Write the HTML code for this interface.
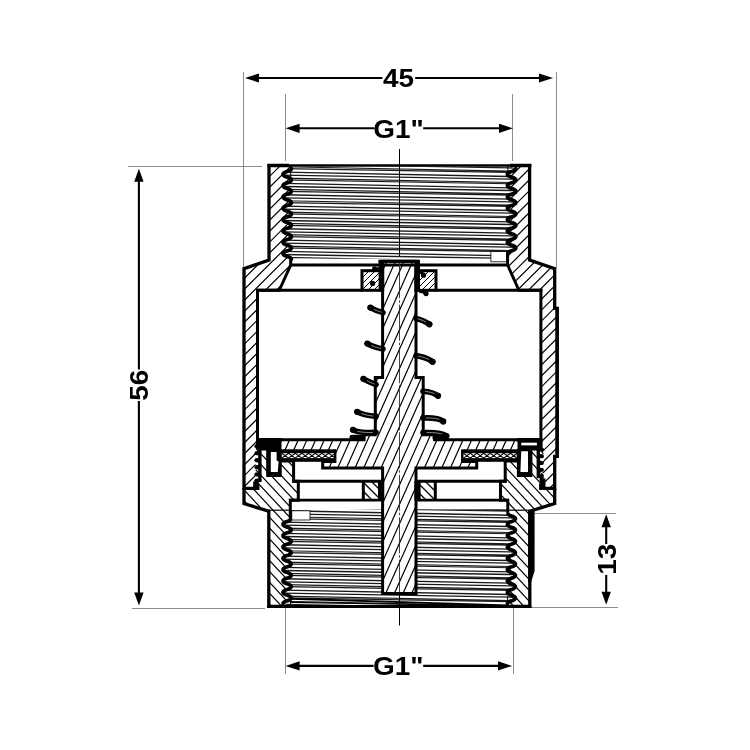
<!DOCTYPE html>
<html><head><meta charset="utf-8"><title>Check valve G1" drawing</title>
<style>html,body{margin:0;padding:0;background:#fff}svg{display:block;will-change:transform}</style></head>
<body>
<svg width="750" height="750" viewBox="0 0 750 750">
<rect width="750" height="750" fill="#fff"/>
<defs>
<clipPath id="cBody"><polygon points="244.00,488.30 244.00,268.70 269.00,260.00 269.00,165.50 289.00,165.50 291.39,168.50 291.37,168.90 291.20,169.30 290.86,169.70 290.36,170.10 289.72,170.50 288.92,170.90 287.93,171.30 286.49,171.70 285.49,172.10 284.69,172.50 284.04,172.90 283.55,173.30 283.21,173.70 283.03,174.10 283.01,174.50 283.16,174.90 283.48,175.30 283.95,175.70 284.57,176.10 285.34,176.50 286.29,176.90 287.72,177.30 288.76,177.70 289.59,178.10 290.26,178.50 290.78,178.90 291.15,179.30 291.35,179.70 291.39,180.10 291.27,180.50 290.98,180.90 290.54,181.30 289.94,181.70 289.20,182.10 288.28,182.50 286.90,182.90 285.79,183.30 284.93,183.70 284.24,184.10 283.69,184.50 283.30,184.90 283.07,185.30 283.00,185.70 283.10,186.10 283.36,186.50 283.78,186.90 284.35,187.30 285.07,187.70 285.96,188.10 287.22,188.50 288.46,188.90 289.34,189.30 290.06,189.70 290.63,190.10 291.05,190.50 291.30,190.90 291.40,191.30 291.33,191.70 291.10,192.10 290.70,192.50 290.15,192.90 289.46,193.30 288.60,193.70 287.49,194.10 286.11,194.50 285.19,194.90 284.45,195.30 283.85,195.70 283.41,196.10 283.13,196.50 283.00,196.90 283.05,197.30 283.26,197.70 283.62,198.10 284.15,198.50 284.82,198.90 285.65,199.30 286.70,199.70 288.12,200.10 289.07,200.50 289.84,200.90 290.46,201.30 290.93,201.70 291.24,202.10 291.39,202.50 291.37,202.90 291.19,203.30 290.85,203.70 290.35,204.10 289.70,204.50 288.90,204.90 287.90,205.30 286.46,205.70 285.47,206.10 284.67,206.50 284.03,206.90 283.54,207.30 283.20,207.70 283.03,208.10 283.02,208.50 283.17,208.90 283.49,209.30 283.96,209.70 284.58,210.10 285.36,210.50 286.32,210.90 287.75,211.30 288.79,211.70 289.61,212.10 290.28,212.50 290.79,212.90 291.16,213.30 291.36,213.70 291.39,214.10 291.27,214.50 290.98,214.90 290.53,215.30 289.93,215.70 289.18,216.10 288.26,216.50 286.86,216.90 285.76,217.30 284.91,217.70 284.22,218.10 283.68,218.50 283.29,218.90 283.07,219.30 283.00,219.70 283.10,220.10 283.37,220.50 283.79,220.90 284.36,221.30 285.09,221.70 285.98,222.10 287.28,222.50 288.48,222.90 289.36,223.30 290.08,223.70 290.64,224.10 291.05,224.50 291.31,224.90 291.40,225.30 291.33,225.70 291.09,226.10 290.69,226.50 290.14,226.90 289.44,227.30 288.58,227.70 287.45,228.10 286.08,228.50 285.17,228.90 284.43,229.30 283.84,229.70 283.40,230.10 283.12,230.50 283.00,230.90 283.05,231.30 283.26,231.70 283.63,232.10 284.16,232.50 284.84,232.90 285.67,233.30 286.73,233.70 288.15,234.10 289.09,234.50 289.86,234.90 290.47,235.30 290.94,235.70 291.24,236.10 291.39,236.50 291.37,236.90 291.18,237.30 290.84,237.70 290.33,238.10 289.68,238.50 288.88,238.90 287.87,239.30 286.43,239.70 285.45,240.10 284.65,240.50 284.02,240.90 283.53,241.30 283.19,241.70 283.02,242.10 283.02,242.50 283.18,242.90 283.50,243.30 283.97,243.70 284.60,244.10 285.38,244.50 286.34,244.90 287.78,245.30 288.81,245.70 289.63,246.10 290.29,246.50 290.80,246.90 291.16,247.30 291.36,247.70 291.39,248.10 291.26,248.50 290.97,248.90 290.51,249.30 289.91,249.70 289.16,250.10 288.23,250.50 286.83,250.90 285.74,251.30 284.89,251.70 284.21,252.10 283.67,252.50 283.29,252.90 283.06,253.30 283.00,253.70 283.11,254.10 283.37,254.50 283.80,254.90 284.38,255.30 285.11,255.70 286.00,256.10 287.33,256.50 288.51,256.90 289.38,257.30 290.09,257.70 290.65,258.10 291.06,258.50 291.31,258.90 291.40,259.30 290.70,259.30 290.70,265.00 279.30,290.30 257.50,290.30 257.50,443.50 255.38,443.50 256.10,443.90 257.22,444.30 259.12,444.70 260.11,445.10 260.76,445.50 261.12,445.90 261.19,446.30 260.97,446.70 260.47,447.10 259.66,447.50 258.36,447.90 256.59,448.30 255.70,448.70 255.12,449.10 254.84,449.50 254.84,449.90 255.12,450.30 255.70,450.70 256.59,451.10 258.36,451.50 259.66,451.90 260.47,452.30 260.97,452.70 261.19,453.10 261.12,453.50 260.76,453.90 260.11,454.30 259.12,454.70 257.22,455.10 256.10,455.50 255.38,455.90 254.94,456.30 254.80,456.70 254.94,457.10 255.38,457.50 256.10,457.90 257.22,458.30 259.12,458.70 260.11,459.10 260.76,459.50 261.12,459.90 261.19,460.30 260.97,460.70 260.47,461.10 259.66,461.50 258.36,461.90 256.59,462.30 255.70,462.70 255.12,463.10 254.84,463.50 254.84,463.90 255.12,464.30 255.70,464.70 256.59,465.10 258.36,465.50 259.66,465.90 260.47,466.30 260.97,466.70 261.19,467.10 261.12,467.50 260.76,467.90 260.11,468.30 259.12,468.70 257.22,469.10 256.10,469.50 255.38,469.90 254.94,470.30 254.80,470.70 254.94,471.10 255.38,471.50 256.10,471.90 257.22,472.30 259.12,472.70 260.11,473.10 260.76,473.50 261.12,473.90 261.19,474.30 260.97,474.70 260.47,475.10 259.66,475.50 258.36,475.90 256.59,476.30 255.70,476.70 255.12,477.10 254.84,477.50 254.84,477.90 255.12,478.30 255.70,478.70 256.59,479.10 258.36,479.50 259.66,479.90 260.47,480.30 260.97,480.70 261.19,481.10 261.12,481.50 254.80,481.50 254.80,485.50 257.80,485.50 257.80,488.30"/><polygon points="554.70,488.40 554.70,456.40 556.90,456.40 556.90,308.30 554.70,308.30 554.70,268.70 529.60,260.00 529.60,165.50 510.00,165.50 515.79,168.50 515.76,168.90 515.57,169.30 515.22,169.70 514.70,170.11 514.04,170.51 513.22,170.91 512.20,171.31 510.75,171.71 509.79,172.11 509.00,172.51 508.37,172.92 507.89,173.32 507.57,173.72 507.42,174.12 507.43,174.52 507.60,174.92 507.94,175.32 508.43,175.73 509.08,176.13 509.88,176.53 510.87,176.93 512.32,177.33 513.32,177.73 514.12,178.13 514.77,178.54 515.26,178.94 515.60,179.34 515.77,179.74 515.78,180.14 515.63,180.54 515.31,180.94 514.83,181.35 514.20,181.75 513.42,182.15 512.45,182.55 511.01,182.95 509.98,183.35 509.16,183.75 508.50,184.16 507.99,184.56 507.63,184.96 507.44,185.36 507.41,185.76 507.55,186.16 507.85,186.56 508.31,186.97 508.92,187.37 509.68,187.77 510.63,188.17 512.05,188.57 513.12,188.97 513.95,189.38 514.63,189.78 515.16,190.18 515.54,190.58 515.75,190.98 515.80,191.38 515.68,191.78 515.39,192.19 514.95,192.59 514.36,192.99 513.61,193.39 512.69,193.79 511.31,194.19 510.19,194.59 509.33,195.00 508.63,195.40 508.09,195.80 507.70,196.20 507.47,196.60 507.40,197.00 507.50,197.40 507.77,197.81 508.19,198.21 508.77,198.61 509.50,199.01 510.40,199.41 511.71,199.81 512.90,200.21 513.78,200.62 514.49,201.02 515.06,201.42 515.47,201.82 515.72,202.22 515.80,202.62 515.72,203.02 515.47,203.43 515.06,203.83 514.50,204.23 513.79,204.63 512.91,205.03 511.74,205.43 510.41,205.83 509.51,206.24 508.78,206.64 508.20,207.04 507.77,207.44 507.50,207.84 507.40,208.24 507.46,208.64 507.69,209.05 508.08,209.45 508.63,209.85 509.32,210.25 510.18,210.65 511.29,211.05 512.68,211.45 513.60,211.86 514.35,212.26 514.95,212.66 515.39,213.06 515.67,213.46 515.80,213.86 515.75,214.26 515.54,214.67 515.17,215.07 514.64,215.47 513.96,215.87 513.13,216.27 512.06,216.67 510.64,217.07 509.69,217.48 508.93,217.88 508.31,218.28 507.85,218.68 507.55,219.08 507.41,219.48 507.44,219.88 507.63,220.29 507.98,220.69 508.49,221.09 509.15,221.49 509.97,221.89 511.00,222.29 512.44,222.69 513.41,223.10 514.19,223.50 514.83,223.90 515.30,224.30 515.62,224.70 515.78,225.10 515.78,225.50 515.60,225.91 515.27,226.31 514.77,226.71 514.13,227.11 513.33,227.51 512.33,227.91 510.89,228.31 509.89,228.72 509.09,229.12 508.44,229.52 507.94,229.92 507.60,230.32 507.43,230.72 507.42,231.12 507.57,231.53 507.89,231.93 508.37,232.33 508.99,232.73 509.77,233.13 510.74,233.53 512.18,233.94 513.21,234.34 514.03,234.74 514.70,235.14 515.21,235.54 515.57,235.94 515.76,236.34 515.79,236.75 515.65,237.15 515.35,237.55 514.90,237.95 514.28,238.35 513.52,238.75 512.58,239.15 511.16,239.56 510.09,239.96 509.25,240.36 508.57,240.76 508.04,241.16 507.66,241.56 507.45,241.96 507.40,242.37 507.52,242.77 507.80,243.17 508.25,243.57 508.84,243.97 509.59,244.37 510.50,244.77 511.89,245.18 513.01,245.58 513.86,245.98 514.56,246.38 515.11,246.78 515.50,247.18 515.73,247.58 515.80,247.99 515.70,248.39 515.44,248.79 515.01,249.19 514.43,249.59 513.70,249.99 512.81,250.39 511.49,250.80 510.30,251.20 509.42,251.60 508.71,252.00 507.60,252.00 507.60,265.00 518.90,290.30 540.90,290.30 540.90,446.50 543.72,446.50 543.36,446.90 542.71,447.30 541.72,447.70 539.82,448.10 538.70,448.50 537.98,448.90 537.54,449.30 537.40,449.70 537.54,450.10 537.98,450.50 538.70,450.90 539.82,451.30 541.72,451.70 542.71,452.10 543.36,452.50 543.72,452.90 543.79,453.30 543.57,453.70 543.07,454.10 542.26,454.50 540.96,454.90 539.19,455.30 538.30,455.70 537.72,456.10 537.44,456.50 537.44,456.90 537.72,457.30 538.30,457.70 539.19,458.10 540.96,458.50 542.26,458.90 543.07,459.30 543.57,459.70 543.79,460.10 543.72,460.50 543.36,460.90 542.71,461.30 541.72,461.70 539.82,462.10 538.70,462.50 537.98,462.90 537.54,463.30 537.40,463.70 537.54,464.10 537.98,464.50 538.70,464.90 539.82,465.30 541.72,465.70 542.71,466.10 543.36,466.50 543.72,466.90 543.79,467.30 543.57,467.70 543.07,468.10 542.26,468.50 540.96,468.90 539.19,469.30 538.30,469.70 537.72,470.10 537.44,470.50 537.44,470.90 537.72,471.30 538.30,471.70 539.19,472.10 540.96,472.50 542.26,472.90 543.07,473.30 543.57,473.70 543.79,474.10 543.72,474.50 543.36,474.90 542.71,475.30 541.72,475.70 539.82,476.10 538.70,476.50 537.98,476.90 537.54,477.30 537.40,477.70 537.54,478.10 537.98,478.50 543.80,478.50 543.80,485.50 540.80,485.50 540.80,488.40"/></clipPath>
<clipPath id="cCap"><polygon points="244.00,488.30 257.80,488.30 257.80,485.50 254.80,485.50 254.80,481.50 261.12,481.50 261.19,481.10 260.97,480.70 260.47,480.30 259.66,479.90 258.36,479.50 256.59,479.10 255.70,478.70 255.12,478.30 254.84,477.90 254.84,477.50 255.12,477.10 255.70,476.70 256.59,476.30 258.36,475.90 259.66,475.50 260.47,475.10 260.97,474.70 261.19,474.30 261.12,473.90 260.76,473.50 260.11,473.10 259.12,472.70 257.22,472.30 256.10,471.90 255.38,471.50 254.94,471.10 254.80,470.70 254.94,470.30 255.38,469.90 256.10,469.50 257.22,469.10 259.12,468.70 260.11,468.30 260.76,467.90 261.12,467.50 261.19,467.10 260.97,466.70 260.47,466.30 259.66,465.90 258.36,465.50 256.59,465.10 255.70,464.70 255.12,464.30 254.84,463.90 254.84,463.50 255.12,463.10 255.70,462.70 256.59,462.30 258.36,461.90 259.66,461.50 260.47,461.10 260.97,460.70 261.19,460.30 261.12,459.90 260.76,459.50 260.11,459.10 259.12,458.70 257.22,458.30 256.10,457.90 255.38,457.50 254.94,457.10 254.80,456.70 254.94,456.30 255.38,455.90 256.10,455.50 257.22,455.10 259.12,454.70 260.11,454.30 260.76,453.90 261.12,453.50 261.19,453.10 260.97,452.70 260.47,452.30 259.66,451.90 258.36,451.50 256.59,451.10 255.70,450.70 255.12,450.30 254.84,449.90 254.84,449.50 255.12,449.10 255.70,448.70 256.59,448.30 258.36,447.90 259.66,447.50 260.47,447.10 260.97,446.70 261.19,446.30 261.12,445.90 260.76,445.50 260.11,445.10 259.12,444.70 257.22,444.30 256.10,443.90 255.38,443.50 258.00,449.00 267.70,449.00 267.70,475.50 280.20,475.50 280.20,461.00 293.60,461.00 293.60,481.30 298.30,481.30 298.30,500.20 290.30,500.20 290.30,520.00 290.32,520.00 289.73,520.40 288.98,520.80 288.07,521.20 286.68,521.61 285.64,522.01 284.81,522.41 284.15,522.81 283.63,523.21 283.26,523.61 283.05,524.01 283.00,524.42 283.12,524.82 283.39,525.22 283.82,525.62 284.40,526.02 285.13,526.42 286.02,526.82 287.36,527.23 288.46,527.63 289.30,528.03 289.98,528.43 290.52,528.83 290.91,529.23 291.13,529.63 291.20,530.04 291.10,530.44 290.85,530.84 290.44,531.24 289.87,531.64 289.16,532.04 288.29,532.44 287.02,532.85 285.84,533.25 284.98,533.65 284.28,534.05 283.73,534.45 283.33,534.85 283.08,535.25 283.00,535.66 283.08,536.06 283.32,536.46 283.71,536.86 284.26,537.26 284.95,537.66 285.80,538.06 286.94,538.47 288.25,538.87 289.13,539.27 289.85,539.67 290.41,540.07 290.83,540.47 291.10,540.88 291.20,541.28 291.14,541.68 290.92,542.08 290.54,542.48 290.01,542.88 289.33,543.28 288.50,543.69 287.43,544.09 286.06,544.49 285.16,544.89 284.43,545.29 283.84,545.69 283.41,546.09 283.13,546.50 283.00,546.90 283.05,547.30 283.25,547.70 283.61,548.10 284.12,548.50 284.78,548.90 285.60,549.31 286.63,549.71 288.02,550.11 288.95,550.51 289.70,550.91 290.30,551.31 290.75,551.71 291.05,552.12 291.19,552.52 291.17,552.92 290.98,553.32 290.64,553.72 290.14,554.12 289.50,554.52 288.70,554.93 287.71,555.33 286.30,555.73 285.35,556.13 284.58,556.53 283.96,556.93 283.49,557.33 283.17,557.74 283.02,558.14 283.02,558.54 283.19,558.94 283.52,559.34 283.99,559.74 284.62,560.14 285.40,560.55 286.37,560.95 287.78,561.35 288.76,561.75 289.54,562.15 290.18,562.55 290.66,562.95 291.00,563.36 291.17,563.76 291.19,564.16 291.04,564.56 290.73,564.96 290.27,565.36 289.65,565.76 288.90,566.17 287.96,566.57 286.55,566.97 285.54,567.37 284.74,567.77 284.09,568.17 283.58,568.57 283.23,568.98 283.04,569.38 283.01,569.78 283.14,570.18 283.43,570.58 283.87,570.98 284.47,571.38 285.21,571.79 286.13,572.19 287.51,572.59 288.56,572.99 289.38,573.39 290.05,573.79 290.57,574.19 290.94,574.60 291.15,575.00 291.20,575.40 291.08,575.80 290.81,576.20 290.38,576.60 289.80,577.00 289.08,577.41 288.19,577.81 286.84,578.21 285.74,578.61 284.90,579.01 284.22,579.41 283.68,579.81 283.30,580.22 283.07,580.62 283.00,581.02 283.10,581.42 283.35,581.82 283.76,582.22 284.32,582.62 285.03,583.03 285.90,583.43 287.17,583.83 288.35,584.23 289.21,584.63 289.91,585.03 290.47,585.44 290.87,585.84 291.11,586.24 291.20,586.64 291.12,587.04 290.89,587.44 290.49,587.84 289.95,588.25 289.25,588.65 288.40,589.05 287.27,589.45 285.96,589.85 285.07,590.25 284.36,590.65 283.79,591.06 283.37,591.46 283.11,591.86 283.00,592.26 283.06,592.66 283.28,593.06 283.66,593.46 284.19,593.87 284.86,594.27 285.69,594.67 286.77,595.07 288.13,595.47 289.04,595.87 289.77,596.27 290.36,596.68 290.79,597.08 291.07,597.48 291.19,597.88 291.15,598.28 290.95,598.68 290.59,599.08 290.08,599.49 289.42,599.89 288.61,600.29 287.58,600.69 286.18,601.09 285.26,601.49 284.50,601.89 283.90,602.30 283.45,602.70 283.15,603.10 283.01,603.50 290.30,606.40 268.80,606.40 268.80,511.20 244.00,503.60"/><polygon points="554.70,488.40 540.80,488.40 540.80,485.50 543.80,485.50 543.80,478.50 537.98,478.50 537.54,478.10 537.40,477.70 537.54,477.30 537.98,476.90 538.70,476.50 539.82,476.10 541.72,475.70 542.71,475.30 543.36,474.90 543.72,474.50 543.79,474.10 543.57,473.70 543.07,473.30 542.26,472.90 540.96,472.50 539.19,472.10 538.30,471.70 537.72,471.30 537.44,470.90 537.44,470.50 537.72,470.10 538.30,469.70 539.19,469.30 540.96,468.90 542.26,468.50 543.07,468.10 543.57,467.70 543.79,467.30 543.72,466.90 543.36,466.50 542.71,466.10 541.72,465.70 539.82,465.30 538.70,464.90 537.98,464.50 537.54,464.10 537.40,463.70 537.54,463.30 537.98,462.90 538.70,462.50 539.82,462.10 541.72,461.70 542.71,461.30 543.36,460.90 543.72,460.50 543.79,460.10 543.57,459.70 543.07,459.30 542.26,458.90 540.96,458.50 539.19,458.10 538.30,457.70 537.72,457.30 537.44,456.90 537.44,456.50 537.72,456.10 538.30,455.70 539.19,455.30 540.96,454.90 542.26,454.50 543.07,454.10 543.57,453.70 543.79,453.30 543.72,452.90 543.36,452.50 542.71,452.10 541.72,451.70 539.82,451.30 538.70,450.90 537.98,450.50 537.54,450.10 537.40,449.70 537.54,449.30 537.98,448.90 538.70,448.50 539.82,448.10 541.72,447.70 542.71,447.30 543.36,446.90 543.72,446.50 540.50,449.00 530.90,449.00 530.90,475.50 518.40,475.50 518.40,461.00 505.20,461.00 505.20,481.30 500.50,481.30 500.50,500.20 507.80,500.20 507.80,515.00 509.18,515.00 509.98,515.40 511.00,515.80 512.35,516.20 513.24,516.60 513.96,517.00 514.54,517.40 514.98,517.80 515.26,518.20 515.39,518.60 515.36,519.00 515.18,519.40 514.84,519.81 514.36,520.21 513.73,520.61 512.95,521.01 511.98,521.41 510.60,521.81 509.68,522.21 508.94,522.61 508.33,523.01 507.88,523.41 507.57,523.81 507.42,524.21 507.42,524.61 507.58,525.01 507.90,525.41 508.36,525.81 508.97,526.21 509.73,526.61 510.66,527.01 512.04,527.41 513.00,527.81 513.76,528.21 514.39,528.62 514.86,529.02 515.19,529.42 515.37,529.82 515.39,530.22 515.25,530.62 514.96,531.02 514.51,531.42 513.93,531.82 513.19,532.22 512.29,532.62 510.93,533.02 509.93,533.42 509.14,533.82 508.50,534.22 508.00,534.62 507.64,535.02 507.45,535.42 507.40,535.82 507.52,536.22 507.79,536.62 508.21,537.02 508.78,537.43 509.49,537.83 510.36,538.23 511.68,538.63 512.74,539.03 513.55,539.43 514.22,539.83 514.74,540.23 515.11,540.63 515.33,541.03 515.40,541.43 515.31,541.83 515.06,542.23 514.66,542.63 514.11,543.03 513.42,543.43 512.58,543.83 511.36,544.23 510.19,544.63 509.35,545.03 508.67,545.43 508.13,545.83 507.73,546.24 507.49,546.64 507.40,547.04 507.47,547.44 507.70,547.84 508.07,548.24 508.60,548.64 509.27,549.04 510.09,549.44 511.16,549.84 512.47,550.24 513.33,550.64 514.04,551.04 514.60,551.44 515.02,551.84 515.29,552.24 515.40,552.64 515.35,553.04 515.15,553.44 514.79,553.84 514.29,554.24 513.64,554.64 512.85,555.05 511.83,555.45 510.48,555.85 509.58,556.25 508.86,556.65 508.27,557.05 507.83,557.45 507.54,557.85 507.41,558.25 507.43,558.65 507.61,559.05 507.95,559.45 508.43,559.85 509.05,560.25 509.83,560.65 510.79,561.05 512.17,561.45 513.10,561.85 513.85,562.25 514.45,562.65 514.91,563.05 515.22,563.45 515.38,563.86 515.38,564.26 515.22,564.66 514.91,565.06 514.45,565.46 513.85,565.86 513.10,566.26 512.17,566.66 510.79,567.06 509.83,567.46 509.05,567.86 508.43,568.26 507.95,568.66 507.61,569.06 507.43,569.46 507.41,569.86 507.54,570.26 507.83,570.66 508.27,571.06 508.86,571.46 509.58,571.86 510.48,572.26 511.83,572.67 512.85,573.07 513.64,573.47 514.29,573.87 514.79,574.27 515.15,574.67 515.35,575.07 515.40,575.47 515.29,575.87 515.02,576.27 514.60,576.67 514.04,577.07 513.33,577.47 512.46,577.87 511.16,578.27 510.08,578.67 509.26,579.07 508.60,579.47 508.07,579.87 507.69,580.27 507.47,580.67 507.40,581.07 507.49,581.48 507.73,581.88 508.13,582.28 508.67,582.68 509.36,583.08 510.20,583.48 511.37,583.88 512.58,584.28 513.43,584.68 514.11,585.08 514.66,585.48 515.06,585.88 515.31,586.28 515.40,586.68 515.33,587.08 515.11,587.48 514.74,587.88 514.22,588.28 513.55,588.68 512.74,589.08 511.67,589.48 510.36,589.88 509.49,590.29 508.78,590.69 508.21,591.09 507.79,591.49 507.52,591.89 507.40,592.29 507.45,592.69 507.65,593.09 508.00,593.49 508.50,593.89 509.14,594.29 509.93,594.69 510.94,595.09 512.29,595.49 513.20,595.89 513.93,596.29 514.52,596.69 514.96,597.09 515.25,597.49 515.39,597.89 515.37,598.29 515.19,598.69 514.86,599.10 514.38,599.50 513.76,599.90 512.99,600.30 512.03,600.70 510.66,601.10 509.72,601.50 508.97,601.90 508.36,602.30 507.90,602.70 507.58,603.10 507.42,603.50 507.80,606.40 529.80,606.40 529.80,511.20 554.70,503.60"/></clipPath>
<clipPath id="cStem"><polygon points="382.60,261.30 382.60,377.50 375.30,377.50 375.30,434.70 364.00,434.70 364.00,439.80 280.00,439.80 280.00,451.00 334.90,451.00 334.90,461.50 322.70,461.50 322.70,468.00 382.60,468.00 382.60,593.60 416.00,593.60 416.00,468.00 476.70,468.00 476.70,461.50 462.60,461.50 462.60,451.00 519.00,451.00 519.00,439.80 434.60,439.80 434.60,434.70 423.20,434.70 423.20,377.50 416.00,377.50 416.00,261.30"/></clipPath>
<clipPath id="cThT"><polygon points="289.00,166.50 291.39,168.50 291.37,168.90 291.20,169.30 290.86,169.70 290.36,170.10 289.72,170.50 288.92,170.90 287.93,171.30 286.49,171.70 285.49,172.10 284.69,172.50 284.04,172.90 283.55,173.30 283.21,173.70 283.03,174.10 283.01,174.50 283.16,174.90 283.48,175.30 283.95,175.70 284.57,176.10 285.34,176.50 286.29,176.90 287.72,177.30 288.76,177.70 289.59,178.10 290.26,178.50 290.78,178.90 291.15,179.30 291.35,179.70 291.39,180.10 291.27,180.50 290.98,180.90 290.54,181.30 289.94,181.70 289.20,182.10 288.28,182.50 286.90,182.90 285.79,183.30 284.93,183.70 284.24,184.10 283.69,184.50 283.30,184.90 283.07,185.30 283.00,185.70 283.10,186.10 283.36,186.50 283.78,186.90 284.35,187.30 285.07,187.70 285.96,188.10 287.22,188.50 288.46,188.90 289.34,189.30 290.06,189.70 290.63,190.10 291.05,190.50 291.30,190.90 291.40,191.30 291.33,191.70 291.10,192.10 290.70,192.50 290.15,192.90 289.46,193.30 288.60,193.70 287.49,194.10 286.11,194.50 285.19,194.90 284.45,195.30 283.85,195.70 283.41,196.10 283.13,196.50 283.00,196.90 283.05,197.30 283.26,197.70 283.62,198.10 284.15,198.50 284.82,198.90 285.65,199.30 286.70,199.70 288.12,200.10 289.07,200.50 289.84,200.90 290.46,201.30 290.93,201.70 291.24,202.10 291.39,202.50 291.37,202.90 291.19,203.30 290.85,203.70 290.35,204.10 289.70,204.50 288.90,204.90 287.90,205.30 286.46,205.70 285.47,206.10 284.67,206.50 284.03,206.90 283.54,207.30 283.20,207.70 283.03,208.10 283.02,208.50 283.17,208.90 283.49,209.30 283.96,209.70 284.58,210.10 285.36,210.50 286.32,210.90 287.75,211.30 288.79,211.70 289.61,212.10 290.28,212.50 290.79,212.90 291.16,213.30 291.36,213.70 291.39,214.10 291.27,214.50 290.98,214.90 290.53,215.30 289.93,215.70 289.18,216.10 288.26,216.50 286.86,216.90 285.76,217.30 284.91,217.70 284.22,218.10 283.68,218.50 283.29,218.90 283.07,219.30 283.00,219.70 283.10,220.10 283.37,220.50 283.79,220.90 284.36,221.30 285.09,221.70 285.98,222.10 287.28,222.50 288.48,222.90 289.36,223.30 290.08,223.70 290.64,224.10 291.05,224.50 291.31,224.90 291.40,225.30 291.33,225.70 291.09,226.10 290.69,226.50 290.14,226.90 289.44,227.30 288.58,227.70 287.45,228.10 286.08,228.50 285.17,228.90 284.43,229.30 283.84,229.70 283.40,230.10 283.12,230.50 283.00,230.90 283.05,231.30 283.26,231.70 283.63,232.10 284.16,232.50 284.84,232.90 285.67,233.30 286.73,233.70 288.15,234.10 289.09,234.50 289.86,234.90 290.47,235.30 290.94,235.70 291.24,236.10 291.39,236.50 291.37,236.90 291.18,237.30 290.84,237.70 290.33,238.10 289.68,238.50 288.88,238.90 287.87,239.30 286.43,239.70 285.45,240.10 284.65,240.50 284.02,240.90 283.53,241.30 283.19,241.70 283.02,242.10 283.02,242.50 283.18,242.90 283.50,243.30 283.97,243.70 284.60,244.10 285.38,244.50 286.34,244.90 287.78,245.30 288.81,245.70 289.63,246.10 290.29,246.50 290.80,246.90 291.16,247.30 291.36,247.70 291.39,248.10 291.26,248.50 290.97,248.90 290.51,249.30 289.91,249.70 289.16,250.10 288.23,250.50 286.83,250.90 285.74,251.30 284.89,251.70 284.21,252.10 283.67,252.50 283.29,252.90 283.06,253.30 283.00,253.70 283.11,254.10 283.37,254.50 283.80,254.90 284.38,255.30 285.11,255.70 286.00,256.10 287.33,256.50 288.51,256.90 289.38,257.30 290.09,257.70 290.65,258.10 291.06,258.50 290.70,258.80 507.60,258.80 508.71,252.00 509.42,251.60 510.30,251.20 511.49,250.80 512.81,250.39 513.70,249.99 514.43,249.59 515.01,249.19 515.44,248.79 515.70,248.39 515.80,247.99 515.73,247.58 515.50,247.18 515.11,246.78 514.56,246.38 513.86,245.98 513.01,245.58 511.89,245.18 510.50,244.77 509.59,244.37 508.84,243.97 508.25,243.57 507.80,243.17 507.52,242.77 507.40,242.37 507.45,241.96 507.66,241.56 508.04,241.16 508.57,240.76 509.25,240.36 510.09,239.96 511.16,239.56 512.58,239.15 513.52,238.75 514.28,238.35 514.90,237.95 515.35,237.55 515.65,237.15 515.79,236.75 515.76,236.34 515.57,235.94 515.21,235.54 514.70,235.14 514.03,234.74 513.21,234.34 512.18,233.94 510.74,233.53 509.77,233.13 508.99,232.73 508.37,232.33 507.89,231.93 507.57,231.53 507.42,231.12 507.43,230.72 507.60,230.32 507.94,229.92 508.44,229.52 509.09,229.12 509.89,228.72 510.89,228.31 512.33,227.91 513.33,227.51 514.13,227.11 514.77,226.71 515.27,226.31 515.60,225.91 515.78,225.50 515.78,225.10 515.62,224.70 515.30,224.30 514.83,223.90 514.19,223.50 513.41,223.10 512.44,222.69 511.00,222.29 509.97,221.89 509.15,221.49 508.49,221.09 507.98,220.69 507.63,220.29 507.44,219.88 507.41,219.48 507.55,219.08 507.85,218.68 508.31,218.28 508.93,217.88 509.69,217.48 510.64,217.07 512.06,216.67 513.13,216.27 513.96,215.87 514.64,215.47 515.17,215.07 515.54,214.67 515.75,214.26 515.80,213.86 515.67,213.46 515.39,213.06 514.95,212.66 514.35,212.26 513.60,211.86 512.68,211.45 511.29,211.05 510.18,210.65 509.32,210.25 508.63,209.85 508.08,209.45 507.69,209.05 507.46,208.64 507.40,208.24 507.50,207.84 507.77,207.44 508.20,207.04 508.78,206.64 509.51,206.24 510.41,205.83 511.74,205.43 512.91,205.03 513.79,204.63 514.50,204.23 515.06,203.83 515.47,203.43 515.72,203.02 515.80,202.62 515.72,202.22 515.47,201.82 515.06,201.42 514.49,201.02 513.78,200.62 512.90,200.21 511.71,199.81 510.40,199.41 509.50,199.01 508.77,198.61 508.19,198.21 507.77,197.81 507.50,197.40 507.40,197.00 507.47,196.60 507.70,196.20 508.09,195.80 508.63,195.40 509.33,195.00 510.19,194.59 511.31,194.19 512.69,193.79 513.61,193.39 514.36,192.99 514.95,192.59 515.39,192.19 515.68,191.78 515.80,191.38 515.75,190.98 515.54,190.58 515.16,190.18 514.63,189.78 513.95,189.38 513.12,188.97 512.05,188.57 510.63,188.17 509.68,187.77 508.92,187.37 508.31,186.97 507.85,186.56 507.55,186.16 507.41,185.76 507.44,185.36 507.63,184.96 507.99,184.56 508.50,184.16 509.16,183.75 509.98,183.35 511.01,182.95 512.45,182.55 513.42,182.15 514.20,181.75 514.83,181.35 515.31,180.94 515.63,180.54 515.78,180.14 515.77,179.74 515.60,179.34 515.26,178.94 514.77,178.54 514.12,178.13 513.32,177.73 512.32,177.33 510.87,176.93 509.88,176.53 509.08,176.13 508.43,175.73 507.94,175.32 507.60,174.92 507.43,174.52 507.42,174.12 507.57,173.72 507.89,173.32 508.37,172.92 509.00,172.51 509.79,172.11 510.75,171.71 512.20,171.31 513.22,170.91 514.04,170.51 514.70,170.11 515.22,169.70 515.57,169.30 515.76,168.90 515.79,168.50 510.00,166.50"/></clipPath>
<clipPath id="cThB"><polygon points="290.30,509.30 290.30,520.00 290.32,520.00 289.73,520.40 288.98,520.80 288.07,521.20 286.68,521.61 285.64,522.01 284.81,522.41 284.15,522.81 283.63,523.21 283.26,523.61 283.05,524.01 283.00,524.42 283.12,524.82 283.39,525.22 283.82,525.62 284.40,526.02 285.13,526.42 286.02,526.82 287.36,527.23 288.46,527.63 289.30,528.03 289.98,528.43 290.52,528.83 290.91,529.23 291.13,529.63 291.20,530.04 291.10,530.44 290.85,530.84 290.44,531.24 289.87,531.64 289.16,532.04 288.29,532.44 287.02,532.85 285.84,533.25 284.98,533.65 284.28,534.05 283.73,534.45 283.33,534.85 283.08,535.25 283.00,535.66 283.08,536.06 283.32,536.46 283.71,536.86 284.26,537.26 284.95,537.66 285.80,538.06 286.94,538.47 288.25,538.87 289.13,539.27 289.85,539.67 290.41,540.07 290.83,540.47 291.10,540.88 291.20,541.28 291.14,541.68 290.92,542.08 290.54,542.48 290.01,542.88 289.33,543.28 288.50,543.69 287.43,544.09 286.06,544.49 285.16,544.89 284.43,545.29 283.84,545.69 283.41,546.09 283.13,546.50 283.00,546.90 283.05,547.30 283.25,547.70 283.61,548.10 284.12,548.50 284.78,548.90 285.60,549.31 286.63,549.71 288.02,550.11 288.95,550.51 289.70,550.91 290.30,551.31 290.75,551.71 291.05,552.12 291.19,552.52 291.17,552.92 290.98,553.32 290.64,553.72 290.14,554.12 289.50,554.52 288.70,554.93 287.71,555.33 286.30,555.73 285.35,556.13 284.58,556.53 283.96,556.93 283.49,557.33 283.17,557.74 283.02,558.14 283.02,558.54 283.19,558.94 283.52,559.34 283.99,559.74 284.62,560.14 285.40,560.55 286.37,560.95 287.78,561.35 288.76,561.75 289.54,562.15 290.18,562.55 290.66,562.95 291.00,563.36 291.17,563.76 291.19,564.16 291.04,564.56 290.73,564.96 290.27,565.36 289.65,565.76 288.90,566.17 287.96,566.57 286.55,566.97 285.54,567.37 284.74,567.77 284.09,568.17 283.58,568.57 283.23,568.98 283.04,569.38 283.01,569.78 283.14,570.18 283.43,570.58 283.87,570.98 284.47,571.38 285.21,571.79 286.13,572.19 287.51,572.59 288.56,572.99 289.38,573.39 290.05,573.79 290.57,574.19 290.94,574.60 291.15,575.00 291.20,575.40 291.08,575.80 290.81,576.20 290.38,576.60 289.80,577.00 289.08,577.41 288.19,577.81 286.84,578.21 285.74,578.61 284.90,579.01 284.22,579.41 283.68,579.81 283.30,580.22 283.07,580.62 283.00,581.02 283.10,581.42 283.35,581.82 283.76,582.22 284.32,582.62 285.03,583.03 285.90,583.43 287.17,583.83 288.35,584.23 289.21,584.63 289.91,585.03 290.47,585.44 290.87,585.84 291.11,586.24 291.20,586.64 291.12,587.04 290.89,587.44 290.49,587.84 289.95,588.25 289.25,588.65 288.40,589.05 287.27,589.45 285.96,589.85 285.07,590.25 284.36,590.65 283.79,591.06 283.37,591.46 283.11,591.86 283.00,592.26 283.06,592.66 283.28,593.06 283.66,593.46 284.19,593.87 284.86,594.27 285.69,594.67 286.77,595.07 288.13,595.47 289.04,595.87 289.77,596.27 290.36,596.68 290.79,597.08 291.07,597.48 291.19,597.88 291.15,598.28 290.95,598.68 290.59,599.08 290.08,599.49 289.42,599.89 288.61,600.29 287.58,600.69 286.18,601.09 285.26,601.49 284.50,601.89 283.90,602.30 283.45,602.70 283.15,603.10 283.01,603.50 290.30,606.40 507.80,606.40 507.42,603.50 507.58,603.10 507.90,602.70 508.36,602.30 508.97,601.90 509.72,601.50 510.66,601.10 512.03,600.70 512.99,600.30 513.76,599.90 514.38,599.50 514.86,599.10 515.19,598.69 515.37,598.29 515.39,597.89 515.25,597.49 514.96,597.09 514.52,596.69 513.93,596.29 513.20,595.89 512.29,595.49 510.94,595.09 509.93,594.69 509.14,594.29 508.50,593.89 508.00,593.49 507.65,593.09 507.45,592.69 507.40,592.29 507.52,591.89 507.79,591.49 508.21,591.09 508.78,590.69 509.49,590.29 510.36,589.88 511.67,589.48 512.74,589.08 513.55,588.68 514.22,588.28 514.74,587.88 515.11,587.48 515.33,587.08 515.40,586.68 515.31,586.28 515.06,585.88 514.66,585.48 514.11,585.08 513.43,584.68 512.58,584.28 511.37,583.88 510.20,583.48 509.36,583.08 508.67,582.68 508.13,582.28 507.73,581.88 507.49,581.48 507.40,581.07 507.47,580.67 507.69,580.27 508.07,579.87 508.60,579.47 509.26,579.07 510.08,578.67 511.16,578.27 512.46,577.87 513.33,577.47 514.04,577.07 514.60,576.67 515.02,576.27 515.29,575.87 515.40,575.47 515.35,575.07 515.15,574.67 514.79,574.27 514.29,573.87 513.64,573.47 512.85,573.07 511.83,572.67 510.48,572.26 509.58,571.86 508.86,571.46 508.27,571.06 507.83,570.66 507.54,570.26 507.41,569.86 507.43,569.46 507.61,569.06 507.95,568.66 508.43,568.26 509.05,567.86 509.83,567.46 510.79,567.06 512.17,566.66 513.10,566.26 513.85,565.86 514.45,565.46 514.91,565.06 515.22,564.66 515.38,564.26 515.38,563.86 515.22,563.45 514.91,563.05 514.45,562.65 513.85,562.25 513.10,561.85 512.17,561.45 510.79,561.05 509.83,560.65 509.05,560.25 508.43,559.85 507.95,559.45 507.61,559.05 507.43,558.65 507.41,558.25 507.54,557.85 507.83,557.45 508.27,557.05 508.86,556.65 509.58,556.25 510.48,555.85 511.83,555.45 512.85,555.05 513.64,554.64 514.29,554.24 514.79,553.84 515.15,553.44 515.35,553.04 515.40,552.64 515.29,552.24 515.02,551.84 514.60,551.44 514.04,551.04 513.33,550.64 512.47,550.24 511.16,549.84 510.09,549.44 509.27,549.04 508.60,548.64 508.07,548.24 507.70,547.84 507.47,547.44 507.40,547.04 507.49,546.64 507.73,546.24 508.13,545.83 508.67,545.43 509.35,545.03 510.19,544.63 511.36,544.23 512.58,543.83 513.42,543.43 514.11,543.03 514.66,542.63 515.06,542.23 515.31,541.83 515.40,541.43 515.33,541.03 515.11,540.63 514.74,540.23 514.22,539.83 513.55,539.43 512.74,539.03 511.68,538.63 510.36,538.23 509.49,537.83 508.78,537.43 508.21,537.02 507.79,536.62 507.52,536.22 507.40,535.82 507.45,535.42 507.64,535.02 508.00,534.62 508.50,534.22 509.14,533.82 509.93,533.42 510.93,533.02 512.29,532.62 513.19,532.22 513.93,531.82 514.51,531.42 514.96,531.02 515.25,530.62 515.39,530.22 515.37,529.82 515.19,529.42 514.86,529.02 514.39,528.62 513.76,528.21 513.00,527.81 512.04,527.41 510.66,527.01 509.73,526.61 508.97,526.21 508.36,525.81 507.90,525.41 507.58,525.01 507.42,524.61 507.42,524.21 507.57,523.81 507.88,523.41 508.33,523.01 508.94,522.61 509.68,522.21 510.60,521.81 511.98,521.41 512.95,521.01 513.73,520.61 514.36,520.21 514.84,519.81 515.18,519.40 515.36,519.00 515.39,518.60 515.26,518.20 514.98,517.80 514.54,517.40 513.96,517.00 513.24,516.60 512.35,516.20 511.00,515.80 509.98,515.40 509.18,515.00 507.80,515.00 507.80,509.30"/></clipPath>
<clipPath id="cGd"><rect x="362" y="270.7" width="19" height="19.5"/><rect x="418" y="270.7" width="18" height="19.5"/></clipPath>
<clipPath id="cGd2"><rect x="364" y="482" width="15" height="17.5"/><rect x="420" y="482" width="15" height="17.5"/></clipPath>
</defs>
<line x1="243.5" y1="72" x2="243.5" y2="267" stroke="#8c8c8c" stroke-width="1"/>
<line x1="556.5" y1="72" x2="556.5" y2="268" stroke="#8c8c8c" stroke-width="1"/>
<line x1="285.5" y1="94" x2="285.5" y2="161" stroke="#8c8c8c" stroke-width="1"/>
<line x1="512.5" y1="94" x2="512.5" y2="161" stroke="#8c8c8c" stroke-width="1"/>
<line x1="128" y1="166.5" x2="262" y2="166.5" stroke="#8c8c8c" stroke-width="1"/>
<line x1="132" y1="608.5" x2="265" y2="608.5" stroke="#8c8c8c" stroke-width="1"/>
<line x1="535" y1="513.5" x2="616" y2="513.5" stroke="#8c8c8c" stroke-width="1"/>
<line x1="531" y1="607.5" x2="618" y2="607.5" stroke="#8c8c8c" stroke-width="1"/>
<line x1="285.5" y1="608" x2="285.5" y2="674" stroke="#8c8c8c" stroke-width="1"/>
<line x1="513.5" y1="608" x2="513.5" y2="674" stroke="#8c8c8c" stroke-width="1"/>
<g clip-path="url(#cThT)"><path d="M282,155.39 L517,159.99 M282,157.29 L517,161.20 M282,166.72 L517,171.32 M282,168.62 L517,172.53 M282,178.05 L517,182.65 M282,179.95 L517,183.86 M282,189.38 L517,193.98 M282,191.28 L517,195.19 M282,200.71 L517,205.31 M282,202.61 L517,206.52 M282,212.04 L517,216.64 M282,213.94 L517,217.85 M282,223.37 L517,227.97 M282,225.27 L517,229.18 M282,234.70 L517,239.30 M282,236.60 L517,240.51 M282,246.03 L517,250.63 M282,247.93 L517,251.84 M282,257.36 L517,261.96 M282,259.26 L517,263.17 M282,268.69 L517,273.29 M282,270.59 L517,274.50" stroke="#1a1a1a" stroke-width="1.2" fill="none"/><path d="M282,160.74 L517,165.34 M282,163.84 L517,167.98 M282,172.07 L517,176.67 M282,175.17 L517,179.31 M282,183.40 L517,188.00 M282,186.50 L517,190.64 M282,194.73 L517,199.33 M282,197.83 L517,201.97 M282,206.06 L517,210.66 M282,209.16 L517,213.30 M282,217.39 L517,221.99 M282,220.49 L517,224.63 M282,228.72 L517,233.32 M282,231.82 L517,235.96 M282,240.05 L517,244.65 M282,243.15 L517,247.29 M282,251.38 L517,255.98 M282,254.48 L517,258.62 M282,262.71 L517,267.31 M282,265.81 L517,269.95 M282,274.04 L517,278.64 M282,277.14 L517,281.28" stroke="#1a1a1a" stroke-width="1.35" fill="none"/></g>
<g clip-path="url(#cThB)"><path d="M282,505.39 L517,509.99 M282,507.29 L517,511.20 M282,516.72 L517,521.32 M282,518.62 L517,522.53 M282,528.05 L517,532.65 M282,529.95 L517,533.86 M282,539.38 L517,543.98 M282,541.28 L517,545.19 M282,550.71 L517,555.31 M282,552.61 L517,556.52 M282,562.04 L517,566.64 M282,563.94 L517,567.85 M282,573.37 L517,577.97 M282,575.27 L517,579.18 M282,584.70 L517,589.30 M282,586.60 L517,590.51 M282,596.03 L517,600.63 M282,597.93 L517,601.84 M282,607.36 L517,611.96 M282,609.26 L517,613.17" stroke="#1a1a1a" stroke-width="1.2" fill="none"/><path d="M282,510.74 L517,515.34 M282,513.84 L517,517.98 M282,522.07 L517,526.67 M282,525.17 L517,529.31 M282,533.40 L517,538.00 M282,536.50 L517,540.64 M282,544.73 L517,549.33 M282,547.83 L517,551.97 M282,556.06 L517,560.66 M282,559.16 L517,563.30 M282,567.39 L517,571.99 M282,570.49 L517,574.63 M282,578.72 L517,583.32 M282,581.82 L517,585.96 M282,590.05 L517,594.65 M282,593.15 L517,597.29 M282,601.38 L517,605.98 M282,604.48 L517,608.62 M282,612.71 L517,617.31 M282,615.81 L517,619.95" stroke="#1a1a1a" stroke-width="1.35" fill="none"/></g>
<rect x="490.9" y="251.6" width="15.6" height="10.2" fill="#fff" stroke="#000" stroke-width="0.8"/>
<rect x="291.8" y="510.8" width="18.2" height="9.2" fill="#fff" stroke="#000" stroke-width="0.8"/>
<line x1="290" y1="598.8" x2="508" y2="605.4" stroke="#000" stroke-width="1.9"/>
<line x1="290" y1="602.4" x2="508" y2="606" stroke="#000" stroke-width="1.2"/>
<line x1="290.7" y1="166" x2="290.7" y2="179" stroke="#000" stroke-width="1.0"/>
<line x1="507.9" y1="166" x2="507.9" y2="172" stroke="#000" stroke-width="1.0"/>
<line x1="290.6" y1="596" x2="290.6" y2="606" stroke="#000" stroke-width="1.0"/>
<line x1="507.6" y1="596" x2="507.6" y2="606" stroke="#000" stroke-width="1.0"/>
<polygon points="382.60,261.30 382.60,377.50 375.30,377.50 375.30,434.70 364.00,434.70 364.00,439.80 280.00,439.80 280.00,451.00 334.90,451.00 334.90,461.50 322.70,461.50 322.70,468.00 382.60,468.00 382.60,593.60 416.00,593.60 416.00,468.00 476.70,468.00 476.70,461.50 462.60,461.50 462.60,451.00 519.00,451.00 519.00,439.80 434.60,439.80 434.60,434.70 423.20,434.70 423.20,377.50 416.00,377.50 416.00,261.30" fill="#fff"/>
<g clip-path="url(#cBody)"><path d="M93.92,100 L-506.08,700 M104.88,100 L-495.12,700 M115.84,100 L-484.16,700 M126.80,100 L-473.20,700 M137.76,100 L-462.24,700 M148.72,100 L-451.28,700 M159.68,100 L-440.32,700 M170.64,100 L-429.36,700 M181.60,100 L-418.40,700 M192.56,100 L-407.44,700 M203.52,100 L-396.48,700 M214.48,100 L-385.52,700 M225.44,100 L-374.56,700 M236.40,100 L-363.60,700 M247.36,100 L-352.64,700 M258.32,100 L-341.68,700 M269.28,100 L-330.72,700 M280.24,100 L-319.76,700 M291.20,100 L-308.80,700 M302.16,100 L-297.84,700 M313.12,100 L-286.88,700 M324.08,100 L-275.92,700 M335.04,100 L-264.96,700 M346.00,100 L-254.00,700 M356.96,100 L-243.04,700 M367.92,100 L-232.08,700 M378.88,100 L-221.12,700 M389.84,100 L-210.16,700 M400.80,100 L-199.20,700 M411.76,100 L-188.24,700 M422.72,100 L-177.28,700 M433.68,100 L-166.32,700 M444.64,100 L-155.36,700 M455.60,100 L-144.40,700 M466.56,100 L-133.44,700 M477.52,100 L-122.48,700 M488.48,100 L-111.52,700 M499.44,100 L-100.56,700 M510.40,100 L-89.60,700 M521.36,100 L-78.64,700 M532.32,100 L-67.68,700 M543.28,100 L-56.72,700 M554.24,100 L-45.76,700 M565.20,100 L-34.80,700 M576.16,100 L-23.84,700 M587.12,100 L-12.88,700 M598.08,100 L-1.92,700 M609.04,100 L9.04,700 M620.00,100 L20.00,700 M630.96,100 L30.96,700 M641.92,100 L41.92,700 M652.88,100 L52.88,700 M663.84,100 L63.84,700 M674.80,100 L74.80,700 M685.76,100 L85.76,700 M696.72,100 L96.72,700 M707.68,100 L107.68,700 M718.64,100 L118.64,700 M729.60,100 L129.60,700 M740.56,100 L140.56,700 M751.52,100 L151.52,700 M762.48,100 L162.48,700 M773.44,100 L173.44,700 M784.40,100 L184.40,700 M795.36,100 L195.36,700 M806.32,100 L206.32,700 M817.28,100 L217.28,700 M828.24,100 L228.24,700 M839.20,100 L239.20,700 M850.16,100 L250.16,700 M861.12,100 L261.12,700 M872.08,100 L272.08,700 M883.04,100 L283.04,700 M894.00,100 L294.00,700 M904.96,100 L304.96,700 M915.92,100 L315.92,700 M926.88,100 L326.88,700 M937.84,100 L337.84,700 M948.80,100 L348.80,700 M959.76,100 L359.76,700 M970.72,100 L370.72,700 M981.68,100 L381.68,700 M992.64,100 L392.64,700 M1003.60,100 L403.60,700 M1014.56,100 L414.56,700 M1025.52,100 L425.52,700 M1036.48,100 L436.48,700 M1047.44,100 L447.44,700 M1058.40,100 L458.40,700 M1069.36,100 L469.36,700 M1080.32,100 L480.32,700 M1091.28,100 L491.28,700 M1102.24,100 L502.24,700 M1113.20,100 L513.20,700 M1124.16,100 L524.16,700 M1135.12,100 L535.12,700 M1146.08,100 L546.08,700 M1157.04,100 L557.04,700 M1168.00,100 L568.00,700 M1178.96,100 L578.96,700 M1189.92,100 L589.92,700 M1200.88,100 L600.88,700 M1211.84,100 L611.84,700 M1222.80,100 L622.80,700 M1233.76,100 L633.76,700 M1244.72,100 L644.72,700 M1255.68,100 L655.68,700 M1266.64,100 L666.64,700 M1277.60,100 L677.60,700 M1288.56,100 L688.56,700 M1299.52,100 L699.52,700" stroke="#000" stroke-width="1.2" fill="none"/></g>
<g clip-path="url(#cCap)"><path d="M-612.91,100 L-54.91,700 M-602.82,100 L-44.82,700 M-592.73,100 L-34.73,700 M-582.64,100 L-24.64,700 M-572.55,100 L-14.55,700 M-562.46,100 L-4.46,700 M-552.37,100 L5.63,700 M-542.28,100 L15.72,700 M-532.19,100 L25.81,700 M-522.10,100 L35.90,700 M-512.01,100 L45.99,700 M-501.92,100 L56.08,700 M-491.83,100 L66.17,700 M-481.74,100 L76.26,700 M-471.65,100 L86.35,700 M-461.56,100 L96.44,700 M-451.47,100 L106.53,700 M-441.38,100 L116.62,700 M-431.29,100 L126.71,700 M-421.20,100 L136.80,700 M-411.11,100 L146.89,700 M-401.02,100 L156.98,700 M-390.93,100 L167.07,700 M-380.84,100 L177.16,700 M-370.75,100 L187.25,700 M-360.66,100 L197.34,700 M-350.57,100 L207.43,700 M-340.48,100 L217.52,700 M-330.39,100 L227.61,700 M-320.30,100 L237.70,700 M-310.21,100 L247.79,700 M-300.12,100 L257.88,700 M-290.03,100 L267.97,700 M-279.94,100 L278.06,700 M-269.85,100 L288.15,700 M-259.76,100 L298.24,700 M-249.67,100 L308.33,700 M-239.58,100 L318.42,700 M-229.49,100 L328.51,700 M-219.40,100 L338.60,700 M-209.31,100 L348.69,700 M-199.22,100 L358.78,700 M-189.13,100 L368.87,700 M-179.04,100 L378.96,700 M-168.95,100 L389.05,700 M-158.86,100 L399.14,700 M-148.77,100 L409.23,700 M-138.68,100 L419.32,700 M-128.59,100 L429.41,700 M-118.50,100 L439.50,700 M-108.41,100 L449.59,700 M-98.32,100 L459.68,700 M-88.23,100 L469.77,700 M-78.14,100 L479.86,700 M-68.05,100 L489.95,700 M-57.96,100 L500.04,700 M-47.87,100 L510.13,700 M-37.78,100 L520.22,700 M-27.69,100 L530.31,700 M-17.60,100 L540.40,700 M-7.51,100 L550.49,700 M2.58,100 L560.58,700 M12.67,100 L570.67,700 M22.76,100 L580.76,700 M32.85,100 L590.85,700 M42.94,100 L600.94,700 M53.03,100 L611.03,700 M63.12,100 L621.12,700 M73.21,100 L631.21,700 M83.30,100 L641.30,700 M93.39,100 L651.39,700 M103.48,100 L661.48,700 M113.57,100 L671.57,700 M123.66,100 L681.66,700 M133.75,100 L691.75,700 M143.84,100 L701.84,700 M153.93,100 L711.93,700 M164.02,100 L722.02,700 M174.11,100 L732.11,700 M184.20,100 L742.20,700 M194.29,100 L752.29,700 M204.38,100 L762.38,700 M214.47,100 L772.47,700 M224.56,100 L782.56,700 M234.65,100 L792.65,700 M244.74,100 L802.74,700 M254.83,100 L812.83,700 M264.92,100 L822.92,700 M275.01,100 L833.01,700 M285.10,100 L843.10,700 M295.19,100 L853.19,700 M305.28,100 L863.28,700 M315.37,100 L873.37,700 M325.46,100 L883.46,700 M335.55,100 L893.55,700 M345.64,100 L903.64,700 M355.73,100 L913.73,700 M365.82,100 L923.82,700 M375.91,100 L933.91,700 M386.00,100 L944.00,700" stroke="#000" stroke-width="1.2" fill="none"/></g>
<g clip-path="url(#cStem)"><path d="M250.78,100 L-17.42,700 M259.45,100 L-8.75,700 M268.12,100 L-0.08,700 M276.79,100 L8.59,700 M285.46,100 L17.26,700 M294.13,100 L25.93,700 M302.80,100 L34.60,700 M311.47,100 L43.27,700 M320.14,100 L51.94,700 M328.81,100 L60.61,700 M337.48,100 L69.28,700 M346.15,100 L77.95,700 M354.82,100 L86.62,700 M363.49,100 L95.29,700 M372.16,100 L103.96,700 M380.83,100 L112.63,700 M389.50,100 L121.30,700 M398.17,100 L129.97,700 M406.84,100 L138.64,700 M415.51,100 L147.31,700 M424.18,100 L155.98,700 M432.85,100 L164.65,700 M441.52,100 L173.32,700 M450.19,100 L181.99,700 M458.86,100 L190.66,700 M467.53,100 L199.33,700 M476.20,100 L208.00,700 M484.87,100 L216.67,700 M493.54,100 L225.34,700 M502.21,100 L234.01,700 M510.88,100 L242.68,700 M519.55,100 L251.35,700 M528.22,100 L260.02,700 M536.89,100 L268.69,700 M545.56,100 L277.36,700 M554.23,100 L286.03,700 M562.90,100 L294.70,700 M571.57,100 L303.37,700 M580.24,100 L312.04,700 M588.91,100 L320.71,700 M597.58,100 L329.38,700 M606.25,100 L338.05,700 M614.92,100 L346.72,700 M623.59,100 L355.39,700 M632.26,100 L364.06,700 M640.93,100 L372.73,700 M649.60,100 L381.40,700 M658.27,100 L390.07,700 M666.94,100 L398.74,700 M675.61,100 L407.41,700 M684.28,100 L416.08,700 M692.95,100 L424.75,700 M701.62,100 L433.42,700 M710.29,100 L442.09,700 M718.96,100 L450.76,700 M727.63,100 L459.43,700 M736.30,100 L468.10,700 M744.97,100 L476.77,700 M753.64,100 L485.44,700 M762.31,100 L494.11,700 M770.98,100 L502.78,700 M779.65,100 L511.45,700 M788.32,100 L520.12,700 M796.99,100 L528.79,700 M805.66,100 L537.46,700 M814.33,100 L546.13,700 M823.00,100 L554.80,700 M831.67,100 L563.47,700 M840.34,100 L572.14,700 M849.01,100 L580.81,700" stroke="#000" stroke-width="1.2" fill="none"/></g>
<polyline points="254.80,481.50 254.80,485.50 257.80,485.50 257.80,488.30 244.00,488.30 244.00,268.70 269.00,260.00 269.00,165.50 289.00,165.50" fill="none" stroke="#000" stroke-width="3.3" stroke-linejoin="miter" stroke-linecap="butt"/>
<polyline points="290.70,259.30 290.70,265.00 279.30,290.30 257.50,290.30 257.50,443.50" fill="none" stroke="#000" stroke-width="3.0" stroke-linejoin="miter" stroke-linecap="butt"/>
<polyline points="543.80,478.50 543.80,485.50 540.80,485.50 540.80,488.40 554.70,488.40 554.70,456.40 556.90,456.40 556.90,308.30 554.70,308.30 554.70,268.70 529.60,260.00 529.60,165.50 510.00,165.50" fill="none" stroke="#000" stroke-width="3.3" stroke-linejoin="miter" stroke-linecap="butt"/>
<polyline points="507.60,252.00 507.60,265.00 518.90,290.30 540.90,290.30 540.90,446.50" fill="none" stroke="#000" stroke-width="3.0" stroke-linejoin="miter" stroke-linecap="butt"/>
<polyline points="258.00,449.00 267.70,449.00 267.70,475.50 280.20,475.50 280.20,461.00 293.60,461.00 293.60,481.30 298.30,481.30 298.30,500.20 290.30,500.20 290.30,520.00" fill="none" stroke="#000" stroke-width="3.0" stroke-linejoin="miter" stroke-linecap="butt"/>
<polyline points="290.30,606.40 268.80,606.40 268.80,511.20 244.00,503.60 244.00,488.30" fill="none" stroke="#000" stroke-width="3.3" stroke-linejoin="miter" stroke-linecap="butt"/>
<polyline points="540.50,449.00 530.90,449.00 530.90,475.50 518.40,475.50 518.40,461.00 505.20,461.00 505.20,481.30 500.50,481.30 500.50,500.20 507.80,500.20 507.80,515.00" fill="none" stroke="#000" stroke-width="3.0" stroke-linejoin="miter" stroke-linecap="butt"/>
<polyline points="507.80,606.40 529.80,606.40 529.80,511.20 554.70,503.60 554.70,488.40" fill="none" stroke="#000" stroke-width="3.3" stroke-linejoin="miter" stroke-linecap="butt"/>
<polygon points="382.60,261.30 382.60,377.50 375.30,377.50 375.30,434.70 364.00,434.70 364.00,439.80 280.00,439.80 280.00,451.00 334.90,451.00 334.90,461.50 322.70,461.50 322.70,468.00 382.60,468.00 382.60,593.60 416.00,593.60 416.00,468.00 476.70,468.00 476.70,461.50 462.60,461.50 462.60,451.00 519.00,451.00 519.00,439.80 434.60,439.80 434.60,434.70 423.20,434.70 423.20,377.50 416.00,377.50 416.00,261.30" fill="none" stroke="#000" stroke-width="3.0" stroke-linejoin="miter" stroke-linecap="butt"/>
<polyline points="291.39,168.50 291.37,168.90 291.20,169.30 290.86,169.70 290.36,170.10 289.72,170.50 288.92,170.90 287.93,171.30 286.49,171.70 285.49,172.10 284.69,172.50 284.04,172.90 283.55,173.30 283.21,173.70 283.03,174.10 283.01,174.50 283.16,174.90 283.48,175.30 283.95,175.70 284.57,176.10 285.34,176.50 286.29,176.90 287.72,177.30 288.76,177.70 289.59,178.10 290.26,178.50 290.78,178.90 291.15,179.30 291.35,179.70 291.39,180.10 291.27,180.50 290.98,180.90 290.54,181.30 289.94,181.70 289.20,182.10 288.28,182.50 286.90,182.90 285.79,183.30 284.93,183.70 284.24,184.10 283.69,184.50 283.30,184.90 283.07,185.30 283.00,185.70 283.10,186.10 283.36,186.50 283.78,186.90 284.35,187.30 285.07,187.70 285.96,188.10 287.22,188.50 288.46,188.90 289.34,189.30 290.06,189.70 290.63,190.10 291.05,190.50 291.30,190.90 291.40,191.30 291.33,191.70 291.10,192.10 290.70,192.50 290.15,192.90 289.46,193.30 288.60,193.70 287.49,194.10 286.11,194.50 285.19,194.90 284.45,195.30 283.85,195.70 283.41,196.10 283.13,196.50 283.00,196.90 283.05,197.30 283.26,197.70 283.62,198.10 284.15,198.50 284.82,198.90 285.65,199.30 286.70,199.70 288.12,200.10 289.07,200.50 289.84,200.90 290.46,201.30 290.93,201.70 291.24,202.10 291.39,202.50 291.37,202.90 291.19,203.30 290.85,203.70 290.35,204.10 289.70,204.50 288.90,204.90 287.90,205.30 286.46,205.70 285.47,206.10 284.67,206.50 284.03,206.90 283.54,207.30 283.20,207.70 283.03,208.10 283.02,208.50 283.17,208.90 283.49,209.30 283.96,209.70 284.58,210.10 285.36,210.50 286.32,210.90 287.75,211.30 288.79,211.70 289.61,212.10 290.28,212.50 290.79,212.90 291.16,213.30 291.36,213.70 291.39,214.10 291.27,214.50 290.98,214.90 290.53,215.30 289.93,215.70 289.18,216.10 288.26,216.50 286.86,216.90 285.76,217.30 284.91,217.70 284.22,218.10 283.68,218.50 283.29,218.90 283.07,219.30 283.00,219.70 283.10,220.10 283.37,220.50 283.79,220.90 284.36,221.30 285.09,221.70 285.98,222.10 287.28,222.50 288.48,222.90 289.36,223.30 290.08,223.70 290.64,224.10 291.05,224.50 291.31,224.90 291.40,225.30 291.33,225.70 291.09,226.10 290.69,226.50 290.14,226.90 289.44,227.30 288.58,227.70 287.45,228.10 286.08,228.50 285.17,228.90 284.43,229.30 283.84,229.70 283.40,230.10 283.12,230.50 283.00,230.90 283.05,231.30 283.26,231.70 283.63,232.10 284.16,232.50 284.84,232.90 285.67,233.30 286.73,233.70 288.15,234.10 289.09,234.50 289.86,234.90 290.47,235.30 290.94,235.70 291.24,236.10 291.39,236.50 291.37,236.90 291.18,237.30 290.84,237.70 290.33,238.10 289.68,238.50 288.88,238.90 287.87,239.30 286.43,239.70 285.45,240.10 284.65,240.50 284.02,240.90 283.53,241.30 283.19,241.70 283.02,242.10 283.02,242.50 283.18,242.90 283.50,243.30 283.97,243.70 284.60,244.10 285.38,244.50 286.34,244.90 287.78,245.30 288.81,245.70 289.63,246.10 290.29,246.50 290.80,246.90 291.16,247.30 291.36,247.70 291.39,248.10 291.26,248.50 290.97,248.90 290.51,249.30 289.91,249.70 289.16,250.10 288.23,250.50 286.83,250.90 285.74,251.30 284.89,251.70 284.21,252.10 283.67,252.50 283.29,252.90 283.06,253.30 283.00,253.70 283.11,254.10 283.37,254.50 283.80,254.90 284.38,255.30 285.11,255.70 286.00,256.10 287.33,256.50 288.51,256.90 289.38,257.30 290.09,257.70 290.65,258.10 291.06,258.50 291.31,258.90 291.40,259.30" fill="none" stroke="#000" stroke-width="3.7" stroke-linejoin="round" stroke-linecap="round"/>
<polyline points="515.79,168.50 515.76,168.90 515.57,169.30 515.22,169.70 514.70,170.11 514.04,170.51 513.22,170.91 512.20,171.31 510.75,171.71 509.79,172.11 509.00,172.51 508.37,172.92 507.89,173.32 507.57,173.72 507.42,174.12 507.43,174.52 507.60,174.92 507.94,175.32 508.43,175.73 509.08,176.13 509.88,176.53 510.87,176.93 512.32,177.33 513.32,177.73 514.12,178.13 514.77,178.54 515.26,178.94 515.60,179.34 515.77,179.74 515.78,180.14 515.63,180.54 515.31,180.94 514.83,181.35 514.20,181.75 513.42,182.15 512.45,182.55 511.01,182.95 509.98,183.35 509.16,183.75 508.50,184.16 507.99,184.56 507.63,184.96 507.44,185.36 507.41,185.76 507.55,186.16 507.85,186.56 508.31,186.97 508.92,187.37 509.68,187.77 510.63,188.17 512.05,188.57 513.12,188.97 513.95,189.38 514.63,189.78 515.16,190.18 515.54,190.58 515.75,190.98 515.80,191.38 515.68,191.78 515.39,192.19 514.95,192.59 514.36,192.99 513.61,193.39 512.69,193.79 511.31,194.19 510.19,194.59 509.33,195.00 508.63,195.40 508.09,195.80 507.70,196.20 507.47,196.60 507.40,197.00 507.50,197.40 507.77,197.81 508.19,198.21 508.77,198.61 509.50,199.01 510.40,199.41 511.71,199.81 512.90,200.21 513.78,200.62 514.49,201.02 515.06,201.42 515.47,201.82 515.72,202.22 515.80,202.62 515.72,203.02 515.47,203.43 515.06,203.83 514.50,204.23 513.79,204.63 512.91,205.03 511.74,205.43 510.41,205.83 509.51,206.24 508.78,206.64 508.20,207.04 507.77,207.44 507.50,207.84 507.40,208.24 507.46,208.64 507.69,209.05 508.08,209.45 508.63,209.85 509.32,210.25 510.18,210.65 511.29,211.05 512.68,211.45 513.60,211.86 514.35,212.26 514.95,212.66 515.39,213.06 515.67,213.46 515.80,213.86 515.75,214.26 515.54,214.67 515.17,215.07 514.64,215.47 513.96,215.87 513.13,216.27 512.06,216.67 510.64,217.07 509.69,217.48 508.93,217.88 508.31,218.28 507.85,218.68 507.55,219.08 507.41,219.48 507.44,219.88 507.63,220.29 507.98,220.69 508.49,221.09 509.15,221.49 509.97,221.89 511.00,222.29 512.44,222.69 513.41,223.10 514.19,223.50 514.83,223.90 515.30,224.30 515.62,224.70 515.78,225.10 515.78,225.50 515.60,225.91 515.27,226.31 514.77,226.71 514.13,227.11 513.33,227.51 512.33,227.91 510.89,228.31 509.89,228.72 509.09,229.12 508.44,229.52 507.94,229.92 507.60,230.32 507.43,230.72 507.42,231.12 507.57,231.53 507.89,231.93 508.37,232.33 508.99,232.73 509.77,233.13 510.74,233.53 512.18,233.94 513.21,234.34 514.03,234.74 514.70,235.14 515.21,235.54 515.57,235.94 515.76,236.34 515.79,236.75 515.65,237.15 515.35,237.55 514.90,237.95 514.28,238.35 513.52,238.75 512.58,239.15 511.16,239.56 510.09,239.96 509.25,240.36 508.57,240.76 508.04,241.16 507.66,241.56 507.45,241.96 507.40,242.37 507.52,242.77 507.80,243.17 508.25,243.57 508.84,243.97 509.59,244.37 510.50,244.77 511.89,245.18 513.01,245.58 513.86,245.98 514.56,246.38 515.11,246.78 515.50,247.18 515.73,247.58 515.80,247.99 515.70,248.39 515.44,248.79 515.01,249.19 514.43,249.59 513.70,249.99 512.81,250.39 511.49,250.80 510.30,251.20 509.42,251.60 508.71,252.00" fill="none" stroke="#000" stroke-width="3.7" stroke-linejoin="round" stroke-linecap="round"/>
<polyline points="290.32,520.00 289.73,520.40 288.98,520.80 288.07,521.20 286.68,521.61 285.64,522.01 284.81,522.41 284.15,522.81 283.63,523.21 283.26,523.61 283.05,524.01 283.00,524.42 283.12,524.82 283.39,525.22 283.82,525.62 284.40,526.02 285.13,526.42 286.02,526.82 287.36,527.23 288.46,527.63 289.30,528.03 289.98,528.43 290.52,528.83 290.91,529.23 291.13,529.63 291.20,530.04 291.10,530.44 290.85,530.84 290.44,531.24 289.87,531.64 289.16,532.04 288.29,532.44 287.02,532.85 285.84,533.25 284.98,533.65 284.28,534.05 283.73,534.45 283.33,534.85 283.08,535.25 283.00,535.66 283.08,536.06 283.32,536.46 283.71,536.86 284.26,537.26 284.95,537.66 285.80,538.06 286.94,538.47 288.25,538.87 289.13,539.27 289.85,539.67 290.41,540.07 290.83,540.47 291.10,540.88 291.20,541.28 291.14,541.68 290.92,542.08 290.54,542.48 290.01,542.88 289.33,543.28 288.50,543.69 287.43,544.09 286.06,544.49 285.16,544.89 284.43,545.29 283.84,545.69 283.41,546.09 283.13,546.50 283.00,546.90 283.05,547.30 283.25,547.70 283.61,548.10 284.12,548.50 284.78,548.90 285.60,549.31 286.63,549.71 288.02,550.11 288.95,550.51 289.70,550.91 290.30,551.31 290.75,551.71 291.05,552.12 291.19,552.52 291.17,552.92 290.98,553.32 290.64,553.72 290.14,554.12 289.50,554.52 288.70,554.93 287.71,555.33 286.30,555.73 285.35,556.13 284.58,556.53 283.96,556.93 283.49,557.33 283.17,557.74 283.02,558.14 283.02,558.54 283.19,558.94 283.52,559.34 283.99,559.74 284.62,560.14 285.40,560.55 286.37,560.95 287.78,561.35 288.76,561.75 289.54,562.15 290.18,562.55 290.66,562.95 291.00,563.36 291.17,563.76 291.19,564.16 291.04,564.56 290.73,564.96 290.27,565.36 289.65,565.76 288.90,566.17 287.96,566.57 286.55,566.97 285.54,567.37 284.74,567.77 284.09,568.17 283.58,568.57 283.23,568.98 283.04,569.38 283.01,569.78 283.14,570.18 283.43,570.58 283.87,570.98 284.47,571.38 285.21,571.79 286.13,572.19 287.51,572.59 288.56,572.99 289.38,573.39 290.05,573.79 290.57,574.19 290.94,574.60 291.15,575.00 291.20,575.40 291.08,575.80 290.81,576.20 290.38,576.60 289.80,577.00 289.08,577.41 288.19,577.81 286.84,578.21 285.74,578.61 284.90,579.01 284.22,579.41 283.68,579.81 283.30,580.22 283.07,580.62 283.00,581.02 283.10,581.42 283.35,581.82 283.76,582.22 284.32,582.62 285.03,583.03 285.90,583.43 287.17,583.83 288.35,584.23 289.21,584.63 289.91,585.03 290.47,585.44 290.87,585.84 291.11,586.24 291.20,586.64 291.12,587.04 290.89,587.44 290.49,587.84 289.95,588.25 289.25,588.65 288.40,589.05 287.27,589.45 285.96,589.85 285.07,590.25 284.36,590.65 283.79,591.06 283.37,591.46 283.11,591.86 283.00,592.26 283.06,592.66 283.28,593.06 283.66,593.46 284.19,593.87 284.86,594.27 285.69,594.67 286.77,595.07 288.13,595.47 289.04,595.87 289.77,596.27 290.36,596.68 290.79,597.08 291.07,597.48 291.19,597.88 291.15,598.28 290.95,598.68 290.59,599.08 290.08,599.49 289.42,599.89 288.61,600.29 287.58,600.69 286.18,601.09 285.26,601.49 284.50,601.89 283.90,602.30 283.45,602.70 283.15,603.10 283.01,603.50" fill="none" stroke="#000" stroke-width="3.7" stroke-linejoin="round" stroke-linecap="round"/>
<polyline points="509.18,515.00 509.98,515.40 511.00,515.80 512.35,516.20 513.24,516.60 513.96,517.00 514.54,517.40 514.98,517.80 515.26,518.20 515.39,518.60 515.36,519.00 515.18,519.40 514.84,519.81 514.36,520.21 513.73,520.61 512.95,521.01 511.98,521.41 510.60,521.81 509.68,522.21 508.94,522.61 508.33,523.01 507.88,523.41 507.57,523.81 507.42,524.21 507.42,524.61 507.58,525.01 507.90,525.41 508.36,525.81 508.97,526.21 509.73,526.61 510.66,527.01 512.04,527.41 513.00,527.81 513.76,528.21 514.39,528.62 514.86,529.02 515.19,529.42 515.37,529.82 515.39,530.22 515.25,530.62 514.96,531.02 514.51,531.42 513.93,531.82 513.19,532.22 512.29,532.62 510.93,533.02 509.93,533.42 509.14,533.82 508.50,534.22 508.00,534.62 507.64,535.02 507.45,535.42 507.40,535.82 507.52,536.22 507.79,536.62 508.21,537.02 508.78,537.43 509.49,537.83 510.36,538.23 511.68,538.63 512.74,539.03 513.55,539.43 514.22,539.83 514.74,540.23 515.11,540.63 515.33,541.03 515.40,541.43 515.31,541.83 515.06,542.23 514.66,542.63 514.11,543.03 513.42,543.43 512.58,543.83 511.36,544.23 510.19,544.63 509.35,545.03 508.67,545.43 508.13,545.83 507.73,546.24 507.49,546.64 507.40,547.04 507.47,547.44 507.70,547.84 508.07,548.24 508.60,548.64 509.27,549.04 510.09,549.44 511.16,549.84 512.47,550.24 513.33,550.64 514.04,551.04 514.60,551.44 515.02,551.84 515.29,552.24 515.40,552.64 515.35,553.04 515.15,553.44 514.79,553.84 514.29,554.24 513.64,554.64 512.85,555.05 511.83,555.45 510.48,555.85 509.58,556.25 508.86,556.65 508.27,557.05 507.83,557.45 507.54,557.85 507.41,558.25 507.43,558.65 507.61,559.05 507.95,559.45 508.43,559.85 509.05,560.25 509.83,560.65 510.79,561.05 512.17,561.45 513.10,561.85 513.85,562.25 514.45,562.65 514.91,563.05 515.22,563.45 515.38,563.86 515.38,564.26 515.22,564.66 514.91,565.06 514.45,565.46 513.85,565.86 513.10,566.26 512.17,566.66 510.79,567.06 509.83,567.46 509.05,567.86 508.43,568.26 507.95,568.66 507.61,569.06 507.43,569.46 507.41,569.86 507.54,570.26 507.83,570.66 508.27,571.06 508.86,571.46 509.58,571.86 510.48,572.26 511.83,572.67 512.85,573.07 513.64,573.47 514.29,573.87 514.79,574.27 515.15,574.67 515.35,575.07 515.40,575.47 515.29,575.87 515.02,576.27 514.60,576.67 514.04,577.07 513.33,577.47 512.46,577.87 511.16,578.27 510.08,578.67 509.26,579.07 508.60,579.47 508.07,579.87 507.69,580.27 507.47,580.67 507.40,581.07 507.49,581.48 507.73,581.88 508.13,582.28 508.67,582.68 509.36,583.08 510.20,583.48 511.37,583.88 512.58,584.28 513.43,584.68 514.11,585.08 514.66,585.48 515.06,585.88 515.31,586.28 515.40,586.68 515.33,587.08 515.11,587.48 514.74,587.88 514.22,588.28 513.55,588.68 512.74,589.08 511.67,589.48 510.36,589.88 509.49,590.29 508.78,590.69 508.21,591.09 507.79,591.49 507.52,591.89 507.40,592.29 507.45,592.69 507.65,593.09 508.00,593.49 508.50,593.89 509.14,594.29 509.93,594.69 510.94,595.09 512.29,595.49 513.20,595.89 513.93,596.29 514.52,596.69 514.96,597.09 515.25,597.49 515.39,597.89 515.37,598.29 515.19,598.69 514.86,599.10 514.38,599.50 513.76,599.90 512.99,600.30 512.03,600.70 510.66,601.10 509.72,601.50 508.97,601.90 508.36,602.30 507.90,602.70 507.58,603.10 507.42,603.50" fill="none" stroke="#000" stroke-width="3.7" stroke-linejoin="round" stroke-linecap="round"/>
<rect x="258.2" y="444" width="3.4" height="38" fill="#000"/>
<ellipse cx="257.3" cy="446.2" rx="2.9" ry="2.1" fill="#000"/>
<ellipse cx="257.3" cy="453.2" rx="2.9" ry="2.1" fill="#000"/>
<ellipse cx="257.3" cy="460.2" rx="2.9" ry="2.1" fill="#000"/>
<ellipse cx="257.3" cy="467.2" rx="2.9" ry="2.1" fill="#000"/>
<ellipse cx="257.3" cy="474.4" rx="2.9" ry="2.1" fill="#000"/>
<ellipse cx="257.3" cy="480.6" rx="2.9" ry="2.1" fill="#000"/>
<rect x="254.6" y="480" width="4" height="6.5" fill="#000"/>
<rect x="536.6" y="447" width="3.4" height="31" fill="#000"/>
<ellipse cx="541" cy="449.4" rx="2.9" ry="2.1" fill="#000"/>
<ellipse cx="541" cy="456.2" rx="2.9" ry="2.1" fill="#000"/>
<ellipse cx="541" cy="463" rx="2.9" ry="2.1" fill="#000"/>
<ellipse cx="541" cy="469.8" rx="2.9" ry="2.1" fill="#000"/>
<ellipse cx="541" cy="476" rx="2.9" ry="2.1" fill="#000"/>
<rect x="539.6" y="477" width="4" height="12" fill="#000"/>
<line x1="268.8" y1="510.2" x2="290.3" y2="510.2" stroke="#000" stroke-width="1.2"/>
<line x1="507.8" y1="510.2" x2="529.8" y2="510.2" stroke="#000" stroke-width="1.2"/>
<line x1="267.4" y1="165.5" x2="531.4" y2="165.5" stroke="#000" stroke-width="2.6" stroke-linecap="butt"/>
<line x1="290.7" y1="265" x2="507.6" y2="265" stroke="#000" stroke-width="3.0" stroke-linecap="butt"/>
<line x1="256" y1="290.3" x2="362" y2="290.3" stroke="#000" stroke-width="3.0" stroke-linecap="butt"/>
<line x1="436" y1="290.3" x2="542.4" y2="290.3" stroke="#000" stroke-width="3.0" stroke-linecap="butt"/>
<line x1="267.2" y1="606.4" x2="531.4" y2="606.4" stroke="#000" stroke-width="3.0" stroke-linecap="butt"/>
<line x1="289" y1="500.2" x2="382" y2="500.2" stroke="#000" stroke-width="2.8" stroke-linecap="butt"/>
<line x1="416.6" y1="500.2" x2="509" y2="500.2" stroke="#000" stroke-width="2.8" stroke-linecap="butt"/>
<line x1="292.2" y1="481.3" x2="382" y2="481.3" stroke="#000" stroke-width="3.0" stroke-linecap="butt"/>
<line x1="416.6" y1="481.3" x2="506.6" y2="481.3" stroke="#000" stroke-width="3.0" stroke-linecap="butt"/>
<line x1="256" y1="439.8" x2="282" y2="439.8" stroke="#000" stroke-width="3.4" stroke-linecap="butt"/>
<line x1="517" y1="439.8" x2="542.4" y2="439.8" stroke="#000" stroke-width="3.4" stroke-linecap="butt"/>
<g clip-path="url(#cGd)"><path d="M396.00,100 L-204.00,700 M402.00,100 L-198.00,700 M408.00,100 L-192.00,700 M414.00,100 L-186.00,700 M420.00,100 L-180.00,700 M426.00,100 L-174.00,700 M432.00,100 L-168.00,700 M438.00,100 L-162.00,700 M444.00,100 L-156.00,700 M450.00,100 L-150.00,700 M456.00,100 L-144.00,700 M462.00,100 L-138.00,700 M468.00,100 L-132.00,700 M474.00,100 L-126.00,700 M480.00,100 L-120.00,700 M486.00,100 L-114.00,700 M492.00,100 L-108.00,700 M498.00,100 L-102.00,700 M504.00,100 L-96.00,700 M510.00,100 L-90.00,700 M516.00,100 L-84.00,700 M522.00,100 L-78.00,700 M528.00,100 L-72.00,700 M534.00,100 L-66.00,700 M540.00,100 L-60.00,700 M546.00,100 L-54.00,700 M552.00,100 L-48.00,700 M558.00,100 L-42.00,700 M564.00,100 L-36.00,700 M570.00,100 L-30.00,700 M576.00,100 L-24.00,700 M582.00,100 L-18.00,700 M588.00,100 L-12.00,700 M594.00,100 L-6.00,700 M600.00,100 L0.00,700 M606.00,100 L6.00,700 M612.00,100 L12.00,700 M618.00,100 L18.00,700 M624.00,100 L24.00,700 M630.00,100 L30.00,700 M636.00,100 L36.00,700 M642.00,100 L42.00,700 M648.00,100 L48.00,700 M654.00,100 L54.00,700 M660.00,100 L60.00,700 M666.00,100 L66.00,700 M672.00,100 L72.00,700 M678.00,100 L78.00,700 M684.00,100 L84.00,700 M690.00,100 L90.00,700 M696.00,100 L96.00,700 M702.00,100 L102.00,700 M708.00,100 L108.00,700 M714.00,100 L114.00,700 M720.00,100 L120.00,700 M726.00,100 L126.00,700 M732.00,100 L132.00,700 M738.00,100 L138.00,700 M744.00,100 L144.00,700 M750.00,100 L150.00,700 M756.00,100 L156.00,700 M762.00,100 L162.00,700 M768.00,100 L168.00,700 M774.00,100 L174.00,700 M780.00,100 L180.00,700 M786.00,100 L186.00,700 M792.00,100 L192.00,700 M798.00,100 L198.00,700" stroke="#000" stroke-width="1.0" fill="none"/></g>
<rect x="362" y="270.7" width="19" height="19.6" fill="none" stroke="#000" stroke-width="3"/>
<rect x="418" y="270.7" width="18" height="19.6" fill="none" stroke="#000" stroke-width="3"/>
<rect x="378.6" y="260" width="5.6" height="31.8" fill="#000"/>
<rect x="414.4" y="260" width="5.6" height="31.8" fill="#000"/>
<line x1="378.6" y1="261.3" x2="420" y2="261.3" stroke="#000" stroke-width="3.0" stroke-linecap="butt"/>
<path d="M379,268.6 L374.8,268.8" stroke="#000" stroke-width="2.6" fill="none" stroke-linecap="round"/>
<path d="M420,271.6 Q422.5,272.4 423.5,275" stroke="#000" stroke-width="2.6" fill="none" stroke-linecap="round"/>
<path d="M420,291.6 Q424,291.6 426,293.5" stroke="#000" stroke-width="2.6" fill="none" stroke-linecap="round"/>
<circle cx="374.6" cy="268.9" r="2.6" fill="#000"/>
<circle cx="372.6" cy="283.4" r="2.6" fill="#000"/>
<circle cx="423.5" cy="275.2" r="2.6" fill="#000"/>
<circle cx="426" cy="293.6" r="2.6" fill="#000"/>
<g clip-path="url(#cGd2)"><path d="M-307.00,100 L293.00,700 M-298.00,100 L302.00,700 M-289.00,100 L311.00,700 M-280.00,100 L320.00,700 M-271.00,100 L329.00,700 M-262.00,100 L338.00,700 M-253.00,100 L347.00,700 M-244.00,100 L356.00,700 M-235.00,100 L365.00,700 M-226.00,100 L374.00,700 M-217.00,100 L383.00,700 M-208.00,100 L392.00,700 M-199.00,100 L401.00,700 M-190.00,100 L410.00,700 M-181.00,100 L419.00,700 M-172.00,100 L428.00,700 M-163.00,100 L437.00,700 M-154.00,100 L446.00,700 M-145.00,100 L455.00,700 M-136.00,100 L464.00,700 M-127.00,100 L473.00,700 M-118.00,100 L482.00,700 M-109.00,100 L491.00,700 M-100.00,100 L500.00,700 M-91.00,100 L509.00,700 M-82.00,100 L518.00,700 M-73.00,100 L527.00,700 M-64.00,100 L536.00,700 M-55.00,100 L545.00,700 M-46.00,100 L554.00,700 M-37.00,100 L563.00,700 M-28.00,100 L572.00,700 M-19.00,100 L581.00,700 M-10.00,100 L590.00,700 M-1.00,100 L599.00,700 M8.00,100 L608.00,700 M17.00,100 L617.00,700 M26.00,100 L626.00,700 M35.00,100 L635.00,700 M44.00,100 L644.00,700 M53.00,100 L653.00,700 M62.00,100 L662.00,700 M71.00,100 L671.00,700 M80.00,100 L680.00,700 M89.00,100 L689.00,700 M98.00,100 L698.00,700 M107.00,100 L707.00,700 M116.00,100 L716.00,700 M125.00,100 L725.00,700 M134.00,100 L734.00,700 M143.00,100 L743.00,700 M152.00,100 L752.00,700 M161.00,100 L761.00,700 M170.00,100 L770.00,700 M179.00,100 L779.00,700 M188.00,100 L788.00,700 M197.00,100 L797.00,700 M206.00,100 L806.00,700 M215.00,100 L815.00,700 M224.00,100 L824.00,700 M233.00,100 L833.00,700 M242.00,100 L842.00,700 M251.00,100 L851.00,700 M260.00,100 L860.00,700 M269.00,100 L869.00,700 M278.00,100 L878.00,700 M287.00,100 L887.00,700 M296.00,100 L896.00,700" stroke="#000" stroke-width="1.3" fill="none"/></g>
<rect x="361.8" y="481.3" width="3" height="18.9" fill="#000"/>
<rect x="378" y="481.3" width="6.2" height="18.9" fill="#000"/>
<rect x="414.4" y="481.3" width="6.2" height="18.9" fill="#000"/>
<rect x="433.8" y="481.3" width="3" height="18.9" fill="#000"/>
<rect x="280" y="449.6" width="55.80000000000001" height="12.2" fill="#000"/>
<rect x="281.8" y="453.2" width="52.20000000000001" height="4.9" fill="#fff"/>
<path d="M281.8,458.1 L288.5,453.2 L295.2,458.1 M281.8,453.2 L288.5,458.1 L295.2,453.2 M295.2,458.1 L301.9,453.2 L308.6,458.1 M295.2,453.2 L301.9,458.1 L308.6,453.2 M308.6,458.1 L315.3,453.2 L322.0,458.1 M308.6,453.2 L315.3,458.1 L322.0,453.2 M322.0,458.1 L328.7,453.2 L335.4,458.1 M322.0,453.2 L328.7,458.1 L335.4,453.2" stroke="#000" stroke-width="1.15" fill="none"/>
<rect x="334.0" y="449.6" width="1.8" height="12.2" fill="#000"/>
<rect x="461.7" y="449.6" width="56.900000000000034" height="12.2" fill="#000"/>
<rect x="463.5" y="453.2" width="53.30000000000003" height="4.9" fill="#fff"/>
<path d="M463.5,458.1 L470.2,453.2 L476.9,458.1 M463.5,453.2 L470.2,458.1 L476.9,453.2 M476.9,458.1 L483.6,453.2 L490.3,458.1 M476.9,453.2 L483.6,458.1 L490.3,453.2 M490.3,458.1 L497.0,453.2 L503.7,458.1 M490.3,453.2 L497.0,458.1 L503.7,453.2 M503.7,458.1 L510.4,453.2 L517.1,458.1 M503.7,453.2 L510.4,458.1 L517.1,453.2" stroke="#000" stroke-width="1.15" fill="none"/>
<rect x="516.8000000000001" y="449.6" width="1.8" height="12.2" fill="#000"/>
<rect x="256" y="438.2" width="24.6" height="11.2" fill="#000"/>
<rect x="267.2" y="448" width="13.6" height="27.7" fill="#000"/>
<polygon points="270.8,452 276.6,452 276.6,460.5 278.6,461.5 277.8,472 270.8,472" fill="#fff"/>
<rect x="518.4" y="438.2" width="24" height="11.2" fill="#000"/>
<rect x="521.3" y="442.7" width="15.6" height="2.7" fill="#fff"/>
<rect x="517.8" y="448" width="13.6" height="27.6" fill="#000"/>
<polygon points="521.2,451.2 528,451.2 528,472 520.4,472" fill="#fff"/>
<rect x="556.6" y="306.8" width="2.3" height="151.2" fill="#000"/>
<polygon points="528.3,510.5 534.6,510.5 534.6,571 530.8,583 528.3,583" fill="#000"/>
<path d="M370.4,307.6 Q375.9,310.8 383,312.6" stroke="#000" stroke-width="5.6" fill="none" stroke-linecap="round"/>
<polyline points="373.84,309.39 375.06,309.94 376.30,310.45 377.58,310.94 378.88,311.39 380.22,311.82 381.60,312.23" stroke="#fff" stroke-width="0.9" fill="none" opacity="0.6"/>
<circle cx="370.4" cy="307.6" r="3.1" fill="#000"/>
<path d="M367.4,343.6 Q372.9,346.8 383,349" stroke="#000" stroke-width="5.6" fill="none" stroke-linecap="round"/>
<polyline points="371.11,345.43 372.54,346.00 374.05,346.55 375.66,347.08 377.35,347.59 379.14,348.08 381.03,348.55" stroke="#fff" stroke-width="0.9" fill="none" opacity="0.6"/>
<circle cx="367.4" cy="343.6" r="3.1" fill="#000"/>
<path d="M363.4,378.8 Q368.9,382.0 376,384.6" stroke="#000" stroke-width="5.6" fill="none" stroke-linecap="round"/>
<polyline points="366.84,380.67 368.06,381.26 369.30,381.85 370.58,382.42 371.88,382.99 373.22,383.54 374.60,384.07" stroke="#fff" stroke-width="0.9" fill="none" opacity="0.6"/>
<circle cx="363.4" cy="378.8" r="3.1" fill="#000"/>
<path d="M357.2,411.8 Q362.7,415.0 376,416.4" stroke="#000" stroke-width="5.6" fill="none" stroke-linecap="round"/>
<polyline points="361.20,413.56 362.85,414.07 364.65,414.55 366.61,414.99 368.72,415.40 370.99,415.77 373.42,416.10" stroke="#fff" stroke-width="0.9" fill="none" opacity="0.6"/>
<circle cx="357.2" cy="411.8" r="3.1" fill="#000"/>
<path d="M353,429.8 Q358.5,433.0 376,432.4" stroke="#000" stroke-width="5.6" fill="none" stroke-linecap="round"/>
<polyline points="357.38,431.38 359.32,431.75 361.50,432.05 363.92,432.27 366.58,432.42 369.48,432.49 372.62,432.48" stroke="#fff" stroke-width="0.9" fill="none" opacity="0.6"/>
<circle cx="353" cy="429.8" r="3.1" fill="#000"/>
<path d="M429.4,324.3 Q424.4,320.3 416,318.4" stroke="#000" stroke-width="5.6" fill="none" stroke-linecap="round"/>
<polyline points="426.09,322.09 424.86,321.44 423.55,320.83 422.18,320.26 420.73,319.73 419.22,319.24 417.65,318.80" stroke="#fff" stroke-width="0.9" fill="none" opacity="0.6"/>
<circle cx="429.4" cy="324.3" r="3.1" fill="#000"/>
<path d="M432.6,361.8 Q427.6,357.8 416,355.6" stroke="#000" stroke-width="5.6" fill="none" stroke-linecap="round"/>
<polyline points="429.01,359.56 427.54,358.89 425.95,358.25 424.22,357.65 422.37,357.08 420.38,356.55 418.25,356.06" stroke="#fff" stroke-width="0.9" fill="none" opacity="0.6"/>
<circle cx="432.6" cy="361.8" r="3.1" fill="#000"/>
<path d="M438,395.8 Q433,391.8 423,391.2" stroke="#000" stroke-width="5.6" fill="none" stroke-linecap="round"/>
<polyline points="434.55,393.71 433.20,393.14 431.75,392.65 430.20,392.22 428.55,391.87 426.80,391.58 424.95,391.35" stroke="#fff" stroke-width="0.9" fill="none" opacity="0.6"/>
<circle cx="438" cy="395.8" r="3.1" fill="#000"/>
<path d="M443.2,421.4 Q438.2,417.4 423,418" stroke="#000" stroke-width="5.6" fill="none" stroke-linecap="round"/>
<polyline points="439.28,419.41 437.57,418.94 435.65,418.55 433.53,418.26 431.20,418.05 428.67,417.94 425.94,417.93" stroke="#fff" stroke-width="0.9" fill="none" opacity="0.6"/>
<circle cx="443.2" cy="421.4" r="3.1" fill="#000"/>
<path d="M446.4,436 Q441.4,432 423,432.6" stroke="#000" stroke-width="5.6" fill="none" stroke-linecap="round"/>
<polyline points="442.19,434.01 440.26,433.54 438.05,433.15 435.58,432.86 432.83,432.65 429.82,432.54 426.55,432.53" stroke="#fff" stroke-width="0.9" fill="none" opacity="0.6"/>
<circle cx="446.4" cy="436" r="3.1" fill="#000"/>
<rect x="349.5" y="434.8" width="16" height="5.6" rx="2.6" fill="#000"/>
<rect x="432.5" y="434.8" width="15.5" height="5.6" rx="2.6" fill="#000"/>
<line x1="399.5" y1="149" x2="399.5" y2="256" stroke="#000" stroke-width="1"/>
<line x1="399.5" y1="263" x2="399.5" y2="592" stroke="#222" stroke-width="0.85" stroke-dasharray="36 2 2.5 2" stroke-dashoffset="0.75"/>
<line x1="399.5" y1="594" x2="399.5" y2="625.5" stroke="#000" stroke-width="1"/>
<line x1="256" y1="78" x2="382.4" y2="78" stroke="#000" stroke-width="2.1" stroke-linecap="butt"/>
<line x1="415.2" y1="78" x2="542" y2="78" stroke="#000" stroke-width="2.1" stroke-linecap="butt"/>
<polygon points="245,78 259,73.4 259,82.6" fill="#000"/>
<polygon points="553,78 539,73.4 539,82.6" fill="#000"/>
<line x1="297" y1="128.3" x2="374.4" y2="128.3" stroke="#000" stroke-width="2.1" stroke-linecap="butt"/>
<line x1="423.2" y1="128.3" x2="501" y2="128.3" stroke="#000" stroke-width="2.1" stroke-linecap="butt"/>
<polygon points="285.6,128.3 299.6,123.70000000000002 299.6,132.9" fill="#000"/>
<polygon points="513,128.3 499,123.70000000000002 499,132.9" fill="#000"/>
<line x1="297" y1="665.9" x2="373.6" y2="665.9" stroke="#000" stroke-width="2.1" stroke-linecap="butt"/>
<line x1="423.2" y1="665.9" x2="501" y2="665.9" stroke="#000" stroke-width="2.1" stroke-linecap="butt"/>
<polygon points="285.6,665.9 299.6,661.3 299.6,670.5" fill="#000"/>
<polygon points="512,665.9 498,661.3 498,670.5" fill="#000"/>
<line x1="138.9" y1="180" x2="138.9" y2="369.5" stroke="#000" stroke-width="2.1" stroke-linecap="butt"/>
<line x1="138.9" y1="401" x2="138.9" y2="594" stroke="#000" stroke-width="2.1" stroke-linecap="butt"/>
<polygon points="138.9,168.8 134.20000000000002,181.8 143.6,181.8" fill="#000"/>
<polygon points="138.9,605.5 134.20000000000002,592.5 143.6,592.5" fill="#000"/>
<line x1="606.2" y1="526" x2="606.2" y2="544" stroke="#000" stroke-width="2.1" stroke-linecap="butt"/>
<line x1="606.2" y1="575" x2="606.2" y2="593" stroke="#000" stroke-width="2.1" stroke-linecap="butt"/>
<polygon points="606.2,514.3 601.5,527.3 610.9000000000001,527.3" fill="#000"/>
<polygon points="606.2,604.8 601.5,591.8 610.9000000000001,591.8" fill="#000"/>
<text transform="translate(398.6,87.3) scale(1.05,1)" text-anchor="middle" style="font-family:'Liberation Sans',sans-serif;font-weight:700;font-size:26.6px;fill:#000">45</text>
<text transform="translate(398.6,137.6) scale(1.05,1)" text-anchor="middle" style="font-family:'Liberation Sans',sans-serif;font-weight:700;font-size:26.6px;fill:#000">G1"</text>
<text transform="translate(398.2,675.4) scale(1.05,1)" text-anchor="middle" style="font-family:'Liberation Sans',sans-serif;font-weight:700;font-size:26.6px;fill:#000">G1"</text>
<text transform="translate(147.8,385.3) rotate(-90) scale(1.05,1)" text-anchor="middle" style="font-family:'Liberation Sans',sans-serif;font-weight:700;font-size:26.6px;fill:#000">56</text>
<text transform="translate(615.8,559.3) rotate(-90) scale(1.05,1)" text-anchor="middle" style="font-family:'Liberation Sans',sans-serif;font-weight:700;font-size:26.6px;fill:#000">13</text>
</svg>
</body></html>
